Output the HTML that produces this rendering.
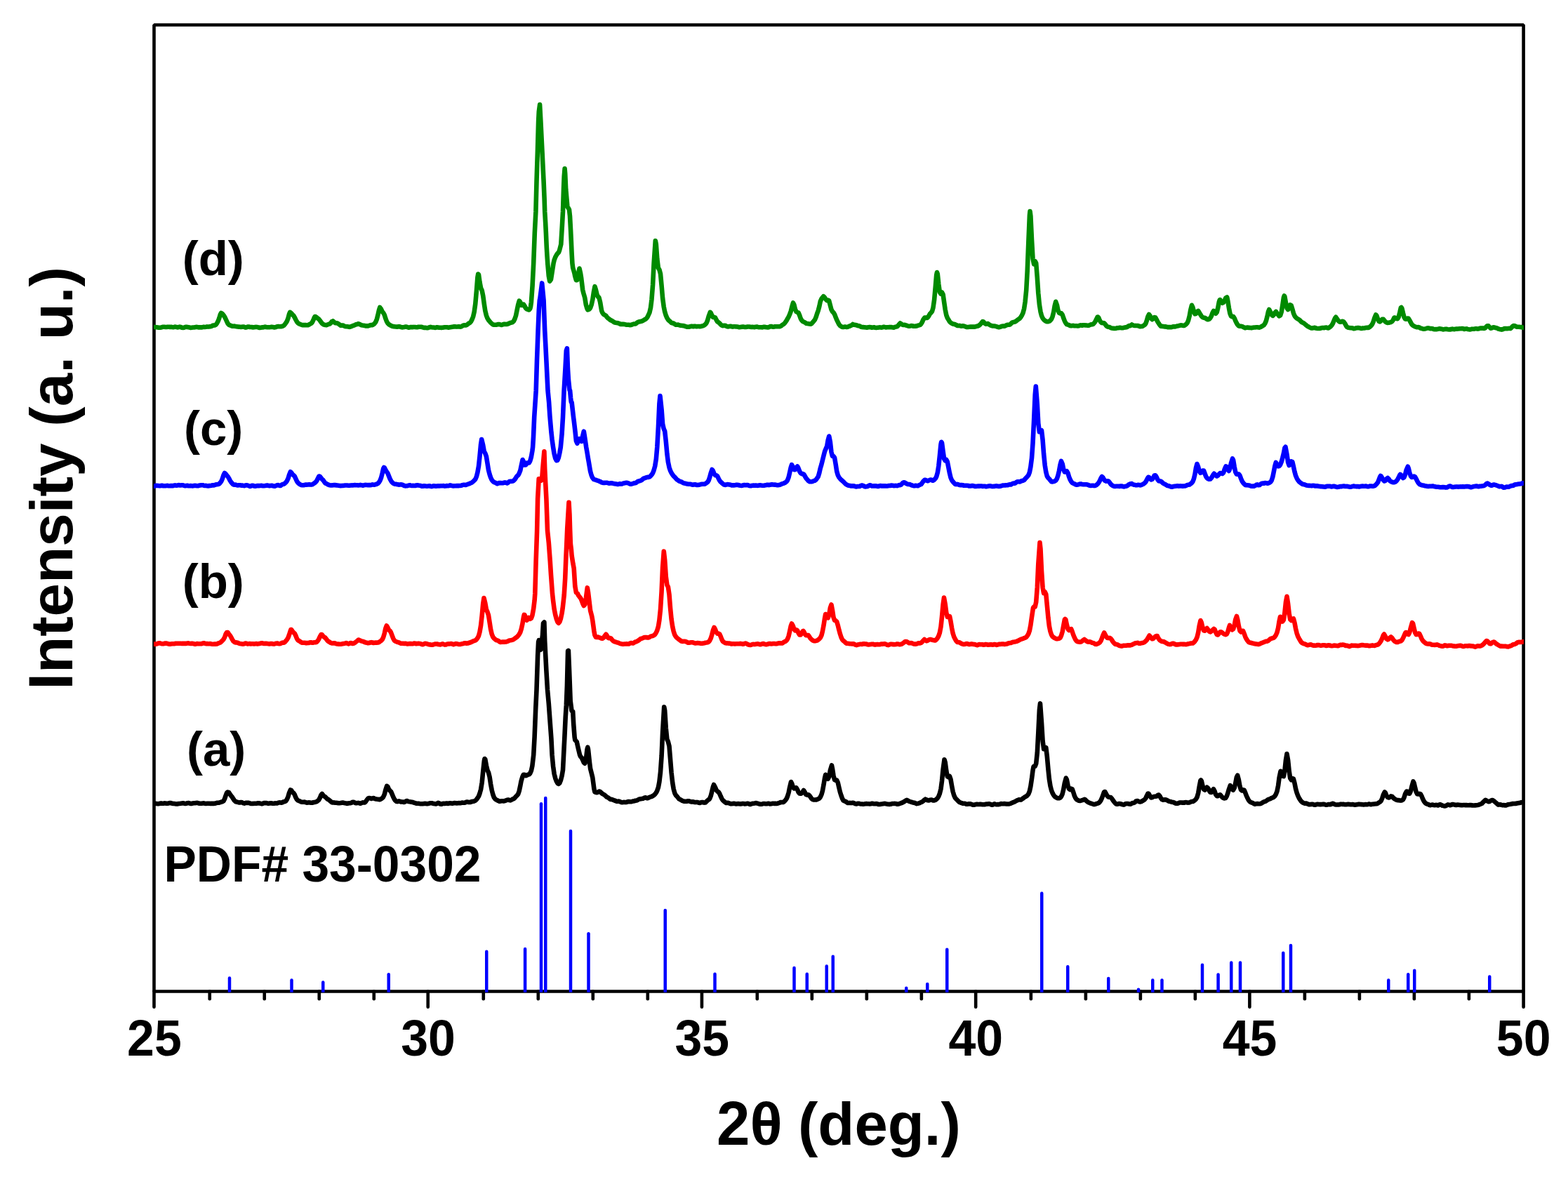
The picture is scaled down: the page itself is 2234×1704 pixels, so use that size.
<!DOCTYPE html>
<html lang="en"><head><meta charset="utf-8"><title>XRD patterns</title>
<style>html,body{margin:0;padding:0;background:#ffffff;}body{width:2234px;height:1704px;overflow:hidden;}svg{display:block;}</style>
</head><body>
<svg width="2234" height="1704" viewBox="0 0 2234 1704" role="img" aria-label="XRD patterns (a)-(d) with PDF# 33-0302 reference lines">
<rect x="0" y="0" width="2234" height="1704" fill="#ffffff"/>
<defs><clipPath id="plotclip"><rect x="219.0" y="35.50" width="1951.90" height="1380.05"/></clipPath></defs>
<g stroke="#000000" stroke-width="4.6" fill="none" stroke-linecap="round" stroke-linejoin="bevel">
<rect x="219.50" y="35.50" width="1951.10" height="1377.05"/>
<line x1="219.50" y1="1412.55" x2="219.50" y2="1434.80"/>
<line x1="298.74" y1="1412.55" x2="298.74" y2="1423.30"/>
<line x1="376.75" y1="1412.55" x2="376.75" y2="1423.30"/>
<line x1="454.76" y1="1412.55" x2="454.76" y2="1423.30"/>
<line x1="532.77" y1="1412.55" x2="532.77" y2="1423.30"/>
<line x1="609.72" y1="1412.55" x2="609.72" y2="1434.80"/>
<line x1="688.78" y1="1412.55" x2="688.78" y2="1423.30"/>
<line x1="766.79" y1="1412.55" x2="766.79" y2="1423.30"/>
<line x1="844.79" y1="1412.55" x2="844.79" y2="1423.30"/>
<line x1="922.80" y1="1412.55" x2="922.80" y2="1423.30"/>
<line x1="999.94" y1="1412.55" x2="999.94" y2="1434.80"/>
<line x1="1078.81" y1="1412.55" x2="1078.81" y2="1423.30"/>
<line x1="1156.82" y1="1412.55" x2="1156.82" y2="1423.30"/>
<line x1="1234.83" y1="1412.55" x2="1234.83" y2="1423.30"/>
<line x1="1312.84" y1="1412.55" x2="1312.84" y2="1423.30"/>
<line x1="1390.16" y1="1412.55" x2="1390.16" y2="1434.80"/>
<line x1="1468.85" y1="1412.55" x2="1468.85" y2="1423.30"/>
<line x1="1546.86" y1="1412.55" x2="1546.86" y2="1423.30"/>
<line x1="1624.86" y1="1412.55" x2="1624.86" y2="1423.30"/>
<line x1="1702.87" y1="1412.55" x2="1702.87" y2="1423.30"/>
<line x1="1780.38" y1="1412.55" x2="1780.38" y2="1434.80"/>
<line x1="1858.88" y1="1412.55" x2="1858.88" y2="1423.30"/>
<line x1="1936.89" y1="1412.55" x2="1936.89" y2="1423.30"/>
<line x1="2014.90" y1="1412.55" x2="2014.90" y2="1423.30"/>
<line x1="2092.91" y1="1412.55" x2="2092.91" y2="1423.30"/>
<line x1="2170.60" y1="1412.55" x2="2170.60" y2="1434.80"/>
</g>
<g clip-path="url(#plotclip)">
<polyline fill="none" stroke="#008a00" stroke-width="6.6" stroke-linejoin="round" stroke-linecap="butt" points="218.5,465.7 220.1,465.9 221.7,466.2 223.2,466.2 224.8,466.4 226.3,466.7 227.9,466.8 229.5,466.5 231.0,466.1 232.6,465.8 234.1,465.8 235.7,466.0 237.3,466.0 238.8,465.7 240.4,465.8 241.9,465.9 243.5,465.7 245.1,466.0 246.6,466.2 248.2,465.9 249.7,465.6 251.3,466.0 252.9,466.4 254.4,466.1 256.0,465.6 257.5,466.0 259.1,466.8 260.7,466.9 262.2,466.7 263.8,466.0 265.4,465.7 266.9,466.0 268.5,466.3 270.0,466.6 271.6,466.9 273.2,466.7 274.7,466.5 276.3,466.5 277.8,466.2 279.4,465.9 281.0,466.0 282.5,466.4 284.1,466.4 285.6,466.3 287.2,466.5 288.8,466.1 290.3,465.7 291.9,465.9 293.4,465.7 295.0,465.4 296.6,465.6 298.1,465.4 299.7,465.3 301.2,464.9 302.8,464.0 304.4,463.5 305.9,463.4 307.5,462.7 309.0,460.8 310.6,457.8 312.2,453.6 313.7,448.6 315.0,446.0 316.8,446.9 318.4,449.0 320.0,451.3 321.5,454.4 323.1,457.9 324.6,461.0 326.2,462.8 327.8,463.4 329.3,464.1 330.9,464.7 332.4,464.7 334.0,464.6 335.6,465.0 337.1,465.2 338.7,465.5 340.3,465.6 341.8,465.7 343.4,465.9 344.9,465.8 346.5,465.5 348.1,465.8 349.6,466.6 351.2,466.4 352.7,465.5 354.3,465.5 355.9,466.0 357.4,466.0 359.0,466.1 360.5,466.4 362.1,466.3 363.7,466.0 365.2,465.9 366.8,466.1 368.3,466.5 369.9,467.0 371.5,466.7 373.0,466.4 374.6,466.4 376.1,466.1 377.7,465.6 379.3,466.0 380.8,466.3 382.4,466.2 383.9,466.2 385.5,466.0 387.1,465.7 388.6,465.9 390.2,466.4 391.7,466.4 393.3,466.0 394.9,465.3 396.4,465.1 398.0,465.3 399.5,465.2 401.1,465.1 402.7,464.7 404.2,463.9 405.8,462.2 407.3,460.1 408.9,457.7 410.5,453.3 412.0,447.6 413.2,444.8 415.1,446.3 416.7,448.3 418.3,449.7 419.8,452.2 421.4,455.5 423.0,458.4 424.5,460.3 426.1,461.4 427.6,461.9 429.2,462.6 430.8,463.1 432.3,463.1 433.9,463.1 435.4,463.0 437.0,463.2 438.6,463.3 440.1,462.5 441.7,461.7 443.2,460.9 444.8,459.3 446.4,456.1 447.9,452.3 448.8,451.0 449.5,451.0 451.0,452.2 452.6,453.5 454.2,454.7 455.7,456.5 457.3,458.7 458.8,460.7 460.4,462.1 462.0,462.7 463.5,463.0 465.1,463.1 466.6,462.6 468.2,461.9 469.8,461.5 471.3,460.2 472.9,458.0 473.8,458.0 474.4,457.4 476.0,458.9 477.6,460.2 479.1,460.2 480.7,460.5 482.2,461.3 483.8,462.6 485.4,463.7 486.9,463.6 488.5,463.5 490.0,464.3 491.6,465.0 493.2,465.2 494.7,465.2 496.3,465.5 497.9,465.9 499.4,465.5 501.0,464.9 502.5,464.3 504.1,463.7 505.7,463.0 507.2,462.3 508.8,462.0 510.3,461.3 511.9,461.7 513.5,462.6 515.0,463.3 516.6,463.6 518.1,463.8 519.7,464.1 521.3,464.4 522.8,464.4 524.4,464.4 525.9,463.9 527.5,463.3 529.1,463.1 530.6,463.1 532.2,462.2 533.7,460.9 535.3,458.7 536.9,454.7 538.4,448.9 540.0,441.7 541.2,438.0 543.1,440.5 544.7,444.0 546.2,445.8 547.8,448.8 549.3,453.7 550.9,457.9 552.5,460.7 554.0,462.1 555.6,463.1 557.1,464.0 558.7,464.7 560.3,465.1 561.8,465.2 563.4,465.4 564.9,465.6 566.5,465.6 568.1,465.3 569.6,465.4 571.2,466.0 572.8,466.4 574.3,466.2 575.9,466.0 577.4,465.6 579.0,465.5 580.6,466.2 582.1,466.7 583.7,466.4 585.2,466.0 586.8,466.1 588.4,466.1 589.9,465.9 591.5,466.1 593.0,466.3 594.6,466.2 596.2,465.8 597.7,465.7 599.3,465.8 600.8,465.8 602.4,466.4 604.0,466.9 605.5,466.8 607.1,467.0 608.6,467.2 610.2,466.9 611.8,466.2 613.3,465.9 614.9,466.3 616.4,466.5 618.0,466.5 619.6,466.9 621.1,466.7 622.7,466.2 624.2,466.4 625.8,466.7 627.4,466.8 628.9,466.9 630.5,466.8 632.0,466.5 633.6,466.2 635.2,466.3 636.7,466.3 638.3,466.6 639.8,466.6 641.4,466.3 643.0,466.0 644.5,465.7 646.1,465.4 647.6,465.4 649.2,465.4 650.8,465.6 652.3,465.4 653.9,465.3 655.5,465.6 657.0,465.5 658.6,464.5 660.1,463.5 661.7,463.4 663.3,463.5 664.8,463.1 666.4,461.9 667.9,460.7 669.5,459.9 671.1,458.1 672.6,455.1 674.2,450.8 675.7,444.2 677.3,432.8 678.9,414.5 680.4,395.1 681.2,390.5 682.0,391.2 683.5,401.9 685.1,410.3 686.7,413.9 688.2,421.3 689.8,433.0 691.3,442.8 692.9,449.4 694.5,453.6 696.0,456.0 697.6,457.9 699.1,459.7 700.7,461.2 702.3,462.4 703.8,462.7 705.4,462.8 706.9,462.8 708.5,462.3 710.1,462.0 711.6,462.1 713.2,462.6 714.7,463.0 716.3,462.4 717.9,461.8 719.4,461.9 721.0,462.0 722.5,461.9 724.1,461.4 725.7,460.5 727.2,459.9 728.8,459.6 730.4,459.1 731.9,457.5 733.5,454.2 735.0,449.8 737.1,439.5 738.2,434.2 739.8,428.6 741.3,430.5 742.8,435.0 744.6,435.0 746.0,433.7 747.5,436.1 749.1,439.1 750.5,440.4 752.2,441.0 753.8,441.5 755.3,439.6 756.0,437.0 756.9,430.6 758.6,407.0 760.2,375.0 761.8,332.0 763.4,301.4 764.5,258.6 765.9,215.7 767.1,172.9 767.8,159.0 769.1,149.1 770.4,172.9 772.5,215.7 774.6,258.6 775.6,282.9 776.2,301.4 777.2,318.2 777.9,332.0 778.7,350.6 779.5,364.3 780.3,376.0 781.8,393.1 783.2,400.7 785.0,398.1 786.5,388.5 788.6,375.0 789.6,370.7 791.2,366.3 793.0,363.0 794.3,361.2 795.9,359.6 797.0,357.0 799.3,348.0 800.9,321.4 802.0,301.4 803.0,269.3 803.7,251.6 804.6,240.4 805.2,247.4 806.2,269.3 808.4,294.2 809.9,296.7 811.0,298.8 812.0,308.0 813.1,328.1 813.8,342.9 814.6,360.8 815.4,375.0 816.2,381.5 817.7,386.6 818.6,390.0 819.3,393.5 820.9,399.2 822.4,399.0 824.0,390.2 825.5,382.5 827.1,389.6 828.2,396.4 830.2,413.0 831.4,417.9 833.3,424.4 834.9,434.4 836.5,439.7 837.3,441.4 838.0,441.0 839.6,440.7 841.1,438.6 842.7,434.2 844.3,426.9 845.8,416.9 847.5,408.2 848.9,412.7 850.5,419.6 852.1,423.1 852.9,423.2 853.6,424.4 855.2,431.1 857.1,442.5 858.3,445.6 859.9,447.7 861.4,448.7 863.0,449.6 863.6,450.0 864.5,451.6 866.1,453.3 867.7,454.4 869.2,455.6 870.8,456.6 872.3,457.3 873.9,458.4 875.5,459.4 877.0,459.8 878.6,460.0 880.1,460.2 881.7,460.6 883.3,461.5 884.8,462.0 886.4,461.9 888.0,461.9 889.5,462.0 891.1,462.4 892.6,462.8 894.2,462.7 895.8,462.7 897.3,463.1 898.9,463.0 900.4,462.5 902.0,461.9 903.6,461.5 905.1,461.5 906.7,460.6 908.2,459.3 909.8,458.7 911.4,458.2 912.9,457.9 914.5,457.6 916.0,456.8 917.6,455.9 919.2,455.0 920.7,454.0 922.3,452.0 923.8,448.9 925.4,445.4 927.0,438.6 928.5,426.3 930.1,405.7 931.6,375.2 933.8,343.0 934.8,348.0 936.3,368.7 937.9,381.8 939.4,384.2 941.0,390.1 942.6,407.0 944.1,424.7 945.7,436.8 947.2,444.3 948.8,449.4 950.4,453.1 951.9,455.5 953.5,457.0 955.0,458.3 956.6,459.8 958.2,460.4 959.7,460.6 961.3,461.7 962.9,462.8 964.4,462.7 966.0,462.6 967.5,463.2 969.1,463.7 970.7,463.8 972.2,464.0 973.8,464.1 975.3,464.5 976.9,465.1 978.5,465.6 980.0,465.7 981.6,465.7 983.1,465.3 984.7,464.8 986.3,464.9 987.8,465.2 989.4,464.8 990.9,464.8 992.5,465.3 994.1,465.0 995.6,465.0 997.2,465.3 998.7,464.9 1000.3,464.6 1001.9,464.1 1003.4,463.3 1005.0,462.1 1006.5,460.2 1008.1,456.4 1009.7,450.6 1011.8,444.8 1012.8,445.8 1014.3,449.4 1015.9,451.9 1017.5,451.9 1019.0,452.6 1020.6,455.7 1022.1,458.2 1023.7,459.3 1025.3,460.6 1026.8,462.4 1028.4,463.6 1029.9,464.1 1031.5,463.7 1033.1,463.7 1034.6,464.5 1036.2,465.3 1037.7,465.4 1039.3,465.0 1040.9,464.8 1042.4,465.2 1044.0,465.6 1045.6,465.3 1047.1,465.2 1048.7,465.4 1050.2,465.5 1051.8,465.8 1053.4,466.3 1054.9,466.1 1056.5,465.7 1058.0,465.5 1059.6,465.6 1061.2,466.0 1062.7,466.0 1064.3,465.6 1065.8,465.5 1067.4,465.5 1069.0,465.7 1070.5,466.0 1072.1,465.9 1073.6,466.0 1075.2,466.2 1076.8,465.7 1078.3,465.5 1079.9,465.9 1081.4,466.2 1083.0,466.2 1084.6,466.3 1086.1,466.4 1087.7,465.9 1089.2,465.8 1090.8,466.1 1092.4,466.2 1093.9,466.4 1095.5,466.2 1097.0,465.3 1098.6,465.0 1100.2,465.5 1101.7,465.7 1103.3,465.4 1104.8,465.3 1106.4,465.3 1108.0,465.2 1109.5,465.2 1111.1,465.1 1112.6,464.5 1114.2,463.3 1115.8,462.3 1117.3,461.2 1118.9,459.2 1120.5,456.9 1122.0,454.2 1123.6,451.4 1125.1,448.0 1126.7,443.6 1128.3,437.2 1130.0,431.5 1131.4,434.3 1132.9,440.5 1134.5,444.1 1136.1,444.9 1137.6,445.6 1139.2,449.4 1140.7,453.8 1142.3,456.5 1143.9,458.1 1145.4,458.8 1147.0,459.5 1148.5,460.7 1150.1,461.1 1151.7,461.3 1153.2,461.6 1154.8,461.8 1156.3,461.0 1157.9,459.2 1159.5,457.4 1161.0,455.5 1162.6,451.7 1164.1,447.0 1165.7,442.7 1167.3,436.7 1168.8,429.4 1170.4,425.7 1171.9,423.9 1173.2,422.2 1175.1,424.1 1176.6,426.6 1178.2,428.1 1179.7,427.5 1181.2,428.5 1182.9,435.1 1184.4,440.9 1186.0,443.8 1187.5,445.3 1189.1,447.9 1190.7,452.1 1192.2,455.8 1193.8,458.9 1195.3,461.9 1196.9,464.0 1198.5,465.1 1200.0,466.0 1201.6,466.0 1203.2,465.6 1204.7,465.6 1206.3,466.0 1207.8,465.7 1209.4,465.0 1211.0,464.5 1212.5,463.8 1214.1,462.9 1215.0,462.0 1215.6,462.4 1217.2,462.7 1218.8,463.0 1220.3,463.3 1221.9,463.9 1223.4,464.2 1225.0,464.7 1226.6,465.6 1228.1,466.0 1229.7,466.1 1231.2,466.3 1232.8,466.4 1234.4,466.6 1235.9,466.6 1237.5,466.3 1239.0,466.1 1240.6,466.3 1242.2,466.7 1243.7,466.5 1245.3,466.3 1246.8,466.7 1248.4,466.9 1250.0,466.7 1251.5,466.6 1253.1,466.4 1254.6,466.5 1256.2,466.6 1257.8,466.2 1259.3,465.7 1260.9,466.1 1262.4,466.5 1264.0,466.3 1265.6,466.2 1267.1,466.1 1268.7,466.0 1270.2,466.1 1271.8,466.5 1273.4,466.6 1274.9,466.0 1276.5,465.6 1278.1,465.3 1279.6,463.9 1281.2,461.9 1282.5,460.5 1284.3,461.6 1285.9,462.7 1287.4,463.0 1289.0,462.8 1290.5,463.3 1292.1,463.9 1293.7,464.5 1295.2,464.7 1296.8,464.5 1298.3,464.1 1299.9,464.2 1301.5,464.8 1303.0,464.7 1304.6,464.6 1306.1,464.5 1307.7,463.8 1309.3,463.4 1310.8,462.9 1312.4,461.5 1313.9,458.8 1315.5,455.2 1317.5,452.5 1318.6,452.5 1320.2,453.0 1321.7,452.5 1323.3,450.1 1325.0,447.0 1326.4,445.6 1328.0,443.6 1329.5,438.4 1331.1,427.3 1332.7,409.6 1334.2,391.6 1335.0,388.0 1335.8,390.3 1337.3,404.6 1338.9,416.1 1340.5,418.6 1342.0,416.4 1343.6,419.5 1345.1,430.2 1346.7,441.1 1348.3,449.0 1349.8,453.0 1351.4,455.6 1353.0,458.2 1354.5,459.8 1356.1,460.8 1357.6,461.5 1359.2,461.8 1360.8,462.2 1362.3,462.9 1363.9,463.9 1365.4,464.1 1367.0,463.9 1368.6,464.5 1370.1,464.6 1371.7,464.2 1373.2,464.4 1374.8,465.1 1376.4,465.7 1377.9,466.1 1379.5,465.9 1381.0,465.7 1382.6,465.6 1384.2,465.5 1385.7,465.6 1387.3,465.6 1388.8,465.6 1390.4,465.2 1392.0,464.7 1393.5,464.4 1395.1,463.5 1396.6,462.2 1398.2,460.2 1400.0,458.0 1401.3,458.6 1402.9,460.6 1404.4,461.7 1406.0,461.3 1407.6,461.1 1409.1,462.3 1410.7,463.3 1412.2,463.9 1413.8,464.4 1415.4,464.5 1416.9,464.5 1418.5,464.9 1420.0,465.3 1421.6,465.8 1423.2,466.3 1424.7,465.9 1426.3,465.2 1427.8,464.8 1429.4,464.6 1431.0,464.7 1432.5,464.1 1434.1,463.2 1435.7,462.8 1437.2,462.8 1438.8,462.5 1440.3,461.2 1441.9,459.6 1443.5,459.0 1445.0,458.8 1446.6,458.2 1448.1,457.2 1449.7,455.9 1451.3,454.8 1452.8,453.8 1454.4,451.7 1455.9,449.3 1457.5,445.9 1459.1,439.8 1460.6,429.9 1462.2,413.6 1463.7,386.2 1465.3,345.6 1466.9,306.8 1467.5,301.0 1468.4,307.6 1470.0,341.5 1471.5,368.3 1473.1,376.3 1474.7,372.1 1476.2,375.1 1477.8,395.3 1479.3,417.7 1480.9,434.0 1482.5,444.1 1484.0,449.8 1485.6,453.3 1487.1,455.4 1488.7,456.7 1490.3,457.8 1491.8,458.2 1493.4,458.2 1494.9,457.7 1496.5,456.6 1498.1,454.5 1499.6,450.9 1501.2,444.5 1502.7,435.5 1504.2,429.8 1505.9,434.5 1507.4,441.8 1509.0,445.8 1510.6,446.6 1512.1,446.3 1513.7,448.4 1515.2,453.0 1516.8,457.2 1518.4,460.2 1519.9,462.1 1521.5,462.6 1523.0,463.1 1524.6,464.0 1526.2,464.3 1527.7,464.0 1529.3,463.9 1530.8,464.2 1532.4,464.2 1534.0,464.2 1535.5,464.4 1537.1,464.2 1538.6,463.5 1540.2,463.4 1541.8,463.7 1543.3,463.3 1544.9,463.2 1546.4,463.4 1548.0,463.5 1549.6,463.7 1551.1,463.8 1552.7,463.1 1554.2,462.4 1555.8,462.3 1557.4,461.8 1558.9,460.4 1560.5,458.1 1562.0,454.9 1563.6,451.8 1564.2,451.5 1565.2,452.5 1566.7,456.2 1568.3,458.9 1569.8,460.0 1571.4,460.1 1573.0,460.2 1574.5,461.8 1576.1,464.0 1577.6,465.4 1579.2,465.8 1580.8,466.1 1582.3,466.9 1583.9,467.6 1585.4,467.8 1587.0,467.9 1588.6,468.0 1590.1,467.7 1591.7,467.3 1593.3,467.2 1594.8,466.9 1596.4,466.9 1597.9,467.3 1599.5,467.3 1601.1,466.9 1602.6,466.5 1604.2,466.4 1605.7,466.0 1607.3,464.8 1608.9,464.1 1610.4,464.1 1612.5,462.5 1613.5,463.2 1615.1,463.7 1616.7,463.9 1618.2,464.0 1619.8,464.0 1621.3,464.1 1622.9,464.8 1624.5,465.2 1626.0,465.0 1627.6,464.9 1629.1,464.0 1630.7,463.0 1632.3,461.1 1633.8,456.9 1635.4,451.2 1637.0,448.0 1638.5,449.8 1640.1,453.7 1641.6,455.2 1643.2,454.0 1644.7,452.1 1646.3,452.5 1647.9,455.5 1649.4,458.5 1651.0,460.9 1652.5,463.2 1654.1,464.8 1655.7,464.9 1657.2,465.0 1658.8,465.4 1660.3,465.3 1661.9,465.7 1663.5,466.2 1665.0,466.0 1666.6,466.1 1668.2,466.3 1669.7,466.0 1671.3,465.4 1672.8,465.3 1674.4,465.4 1676.0,464.9 1677.5,464.5 1679.1,464.3 1680.6,463.7 1682.2,463.4 1683.8,463.5 1685.3,463.9 1686.9,463.9 1688.4,463.2 1690.0,461.9 1691.6,460.1 1693.1,456.5 1694.7,450.3 1696.2,441.8 1698.0,434.8 1699.4,437.8 1700.9,443.7 1702.5,447.3 1704.0,447.0 1705.6,444.0 1707.2,442.9 1708.7,445.4 1710.3,448.2 1711.8,450.4 1713.4,452.1 1715.0,452.6 1716.5,452.7 1718.1,453.8 1719.6,454.9 1721.2,455.2 1722.8,454.6 1724.3,453.1 1725.9,450.3 1727.4,446.0 1729.0,443.0 1730.6,444.9 1732.1,446.7 1733.7,444.9 1735.2,438.9 1736.8,430.3 1737.8,427.2 1738.4,427.1 1739.9,429.8 1741.5,431.8 1743.1,431.1 1744.6,428.7 1746.2,424.6 1748.2,423.5 1749.3,428.7 1750.9,438.8 1752.4,446.5 1754.0,450.6 1755.5,451.3 1757.1,451.0 1758.7,453.3 1760.2,457.0 1761.8,460.2 1763.3,462.7 1764.9,464.3 1766.5,464.8 1768.0,464.7 1769.6,465.1 1771.1,465.8 1772.7,466.7 1774.3,467.3 1775.8,466.7 1777.4,466.5 1778.9,466.9 1780.5,466.9 1782.1,467.1 1783.6,467.1 1785.2,466.7 1786.7,466.5 1788.3,466.5 1789.9,466.3 1791.4,466.2 1793.0,466.5 1794.5,466.6 1796.1,465.9 1797.7,465.0 1799.2,464.2 1800.8,463.0 1802.3,460.9 1803.9,457.1 1805.5,450.9 1807.0,443.9 1808.2,441.0 1810.1,444.8 1811.7,448.4 1813.3,449.8 1814.8,448.6 1816.4,445.5 1817.9,443.9 1820.0,447.5 1821.1,448.4 1822.6,450.4 1824.2,449.3 1825.8,444.3 1827.3,434.8 1828.9,423.9 1829.8,421.5 1830.4,422.6 1832.0,431.5 1833.6,439.0 1835.1,441.1 1836.7,438.4 1838.2,434.4 1839.8,435.4 1841.4,440.8 1842.9,446.2 1844.5,450.0 1846.0,452.1 1847.6,453.5 1849.2,454.5 1850.7,455.3 1852.3,456.6 1853.8,458.4 1855.4,459.4 1857.0,460.1 1858.5,461.2 1860.1,462.5 1861.6,463.9 1863.2,465.0 1864.8,465.8 1866.3,466.6 1867.9,467.4 1869.4,467.6 1871.0,467.3 1872.6,466.8 1874.1,467.2 1875.7,467.8 1877.2,468.0 1878.8,468.0 1880.4,467.9 1881.9,467.6 1883.5,467.0 1885.0,467.0 1886.6,467.2 1888.2,466.7 1889.7,466.5 1891.3,467.2 1892.8,467.4 1894.4,466.3 1896.0,464.9 1897.5,463.3 1899.1,460.5 1900.7,456.6 1902.2,453.0 1903.2,451.8 1905.3,454.9 1906.9,457.2 1908.5,458.5 1910.0,458.8 1911.6,458.0 1913.1,457.7 1914.7,458.8 1916.3,461.1 1917.8,464.1 1919.4,466.1 1920.9,466.8 1922.5,467.0 1924.1,467.2 1925.6,467.3 1927.2,467.6 1928.7,468.3 1930.3,468.1 1931.9,467.4 1933.4,467.3 1935.0,467.0 1936.5,467.2 1938.1,467.7 1939.7,467.9 1941.2,467.6 1942.8,467.5 1944.3,467.5 1945.9,466.9 1947.5,466.7 1949.0,467.0 1950.6,466.5 1952.1,465.3 1953.7,463.8 1955.3,461.5 1956.8,457.9 1958.4,452.8 1960.2,448.5 1961.5,450.0 1963.1,454.5 1964.6,457.8 1966.2,458.3 1967.7,456.7 1969.3,454.8 1970.9,454.9 1972.4,456.8 1974.0,458.6 1975.5,459.6 1977.1,459.9 1978.7,459.8 1980.2,459.4 1981.8,459.0 1983.4,458.0 1984.9,455.8 1986.5,452.5 1988.0,453.0 1989.6,453.9 1991.2,454.2 1992.7,451.6 1994.3,445.3 1995.8,438.6 1996.5,438.0 1997.4,439.3 1999.0,446.1 2000.5,451.8 2002.1,454.5 2003.6,454.7 2005.2,453.5 2006.8,453.8 2008.3,456.4 2009.9,459.4 2011.4,462.1 2013.0,463.7 2014.6,464.6 2016.1,465.4 2017.7,465.9 2019.2,466.2 2020.8,466.1 2022.4,466.7 2023.9,467.6 2025.5,468.0 2027.0,468.4 2028.6,468.7 2030.2,468.5 2031.7,468.1 2033.3,467.6 2034.8,467.4 2036.4,467.8 2038.0,468.2 2039.5,468.1 2041.1,468.2 2042.6,468.9 2044.2,469.2 2045.8,469.0 2047.3,469.1 2048.9,468.8 2050.4,468.4 2052.0,468.4 2053.6,468.7 2055.1,469.2 2056.7,469.4 2058.3,469.0 2059.8,468.8 2061.4,468.9 2062.9,469.2 2064.5,469.4 2066.1,469.5 2067.6,469.0 2069.2,468.6 2070.7,469.0 2072.3,469.2 2073.9,468.7 2075.4,468.5 2077.0,468.6 2078.5,468.4 2080.1,468.3 2081.7,468.3 2083.2,468.0 2084.8,468.2 2086.3,468.9 2087.9,468.6 2089.5,468.4 2091.0,469.0 2092.6,469.2 2094.1,469.4 2095.7,469.2 2097.3,468.7 2098.8,468.8 2100.4,468.8 2101.9,468.2 2103.5,468.2 2105.1,468.6 2106.6,468.4 2108.2,467.8 2109.7,467.6 2111.3,467.6 2112.9,467.6 2114.4,467.9 2116.0,467.3 2117.5,465.5 2119.0,464.2 2120.7,464.4 2122.2,466.0 2123.8,467.6 2125.3,467.5 2126.9,466.5 2128.5,466.3 2130.0,466.8 2131.6,467.2 2133.2,467.7 2134.7,468.5 2136.3,468.9 2137.8,469.2 2139.4,469.6 2141.0,469.2 2142.5,468.5 2144.1,468.0 2145.6,468.1 2147.2,468.3 2148.8,468.0 2150.3,467.9 2151.9,468.1 2153.4,466.9 2155.0,465.0 2156.5,464.0 2158.1,464.2 2159.7,465.0 2161.2,465.8 2162.8,465.8 2164.4,465.8 2165.9,466.0 2167.5,466.1 2169.0,466.4 2170.6,466.9 2172.2,467.0"/>
<polyline fill="none" stroke="#0000ff" stroke-width="6.6" stroke-linejoin="round" stroke-linecap="butt" points="218.5,692.7 220.1,692.6 221.7,692.0 223.2,691.7 224.8,691.9 226.3,692.1 227.9,692.2 229.5,691.9 231.0,691.8 232.6,692.2 234.1,692.3 235.7,692.2 237.3,692.0 238.8,691.9 240.4,692.2 241.9,692.3 243.5,692.1 245.1,692.0 246.6,692.1 248.2,691.6 249.7,691.4 251.3,691.8 252.9,691.5 254.4,691.1 256.0,691.4 257.5,691.5 259.1,691.3 260.7,691.3 262.2,691.9 263.8,692.3 265.4,692.0 266.9,691.8 268.5,692.2 270.0,692.3 271.6,692.1 273.2,692.3 274.7,692.4 276.3,692.0 277.8,691.8 279.4,692.0 281.0,692.3 282.5,692.2 284.1,691.6 285.6,691.4 287.2,691.3 288.8,691.2 290.3,691.7 291.9,692.0 293.4,691.9 295.0,692.3 296.6,692.4 298.1,692.1 299.7,692.0 301.2,691.7 302.8,691.3 304.4,691.4 305.9,691.1 307.5,690.4 309.0,690.3 310.6,690.1 312.2,689.4 313.7,687.9 315.3,685.7 316.8,682.2 318.4,677.3 320.0,674.0 321.5,675.1 323.1,677.3 324.6,678.9 326.2,681.6 327.8,684.7 329.3,687.0 330.9,688.9 332.4,690.4 334.0,690.8 335.6,690.6 337.1,691.1 338.7,691.5 340.3,691.2 341.8,691.3 343.4,691.6 344.9,691.5 346.5,691.9 348.1,692.1 349.6,691.5 351.2,691.3 352.7,691.5 354.3,692.1 355.9,692.9 357.4,692.6 359.0,691.7 360.5,691.7 362.1,692.5 363.7,692.8 365.2,692.4 366.8,692.0 368.3,692.1 369.9,692.1 371.5,691.9 373.0,691.9 374.6,692.2 376.1,692.3 377.7,692.1 379.3,691.8 380.8,691.5 382.4,691.9 383.9,692.3 385.5,691.9 387.1,691.7 388.6,692.2 390.2,692.6 391.7,692.6 393.3,692.0 394.9,691.2 396.4,691.1 398.0,691.9 399.5,692.0 401.1,690.8 402.7,690.1 404.2,689.8 405.8,688.7 407.3,687.3 408.9,685.2 410.5,681.7 412.0,676.8 413.8,672.2 415.1,673.4 416.7,675.9 418.3,677.1 419.8,678.6 421.4,682.1 423.0,685.6 424.5,687.8 426.1,689.2 427.6,690.2 429.2,690.9 430.8,691.2 432.3,691.2 433.9,690.9 435.4,690.6 437.0,690.6 438.6,690.5 440.1,690.4 441.7,690.4 443.2,690.6 444.8,690.3 446.4,689.4 447.9,688.3 449.5,687.2 451.0,685.4 452.6,682.2 454.5,678.5 455.7,678.7 457.3,680.8 458.8,682.7 460.4,684.1 462.0,686.5 463.5,688.4 465.1,689.1 466.6,690.0 468.2,690.8 469.8,691.2 471.3,691.4 472.9,691.5 474.4,691.2 476.0,691.0 477.6,691.1 479.1,691.4 480.7,691.5 482.2,691.7 483.8,692.0 485.4,692.1 486.9,692.0 488.5,691.9 490.0,691.7 491.6,691.5 493.2,691.5 494.7,691.5 496.3,691.7 497.9,691.8 499.4,691.6 501.0,691.4 502.5,691.5 504.1,691.3 505.7,691.1 507.2,691.2 508.8,691.3 510.3,691.4 511.9,691.2 513.5,690.9 515.0,691.2 516.6,691.7 518.1,691.4 519.7,691.0 521.3,690.9 522.8,691.1 524.4,691.3 525.9,691.0 527.5,691.1 529.1,691.0 530.6,690.4 532.2,690.6 533.7,690.7 535.3,690.2 536.9,689.6 538.4,688.8 540.0,687.2 541.5,684.6 543.1,680.5 544.7,674.2 546.2,667.5 547.0,666.0 547.8,666.3 549.3,669.6 550.9,672.1 552.5,674.4 554.0,678.2 555.6,682.2 557.1,685.1 558.7,687.3 560.3,688.6 561.8,689.4 563.4,689.7 564.9,689.8 566.5,690.3 568.1,690.6 569.6,690.5 571.2,690.4 572.8,690.5 574.3,691.1 575.9,692.0 577.4,692.4 579.0,692.2 580.6,692.1 582.1,691.6 583.7,691.2 585.2,691.7 586.8,692.0 588.4,691.9 589.9,692.0 591.5,692.0 593.0,691.5 594.6,691.3 596.2,691.6 597.7,691.8 599.3,692.0 600.8,692.6 602.4,692.7 604.0,692.3 605.5,692.4 607.1,692.6 608.6,692.7 610.2,692.5 611.8,692.3 613.3,692.7 614.9,693.1 616.4,692.7 618.0,692.2 619.6,692.5 621.1,692.8 622.7,692.5 624.2,692.4 625.8,692.5 627.4,692.2 628.9,692.3 630.5,692.2 632.0,692.1 633.6,692.6 635.2,692.4 636.7,692.1 638.3,692.2 639.8,691.9 641.4,691.4 643.0,691.7 644.5,692.3 646.1,692.4 647.6,692.3 649.2,692.2 650.8,692.1 652.3,692.1 653.9,692.1 655.5,691.9 657.0,691.7 658.6,691.3 660.1,690.7 661.7,690.7 663.3,691.0 664.8,690.6 666.4,689.9 667.9,689.4 669.5,688.8 671.1,688.1 672.6,687.3 674.2,686.0 675.7,684.5 677.3,682.7 678.9,679.0 680.4,673.1 682.0,664.2 683.5,650.1 685.1,632.9 686.2,626.0 688.2,634.3 689.8,643.3 691.3,645.9 692.9,650.4 694.5,660.3 696.0,669.7 697.6,675.9 699.1,680.4 700.7,683.7 702.3,685.8 703.8,687.1 705.4,687.5 706.9,688.4 708.5,689.2 710.1,688.5 711.6,688.0 713.2,688.1 714.7,688.3 716.3,688.2 717.9,687.8 719.4,687.4 721.0,687.8 722.5,688.4 724.1,687.4 725.7,686.0 727.2,685.8 728.8,685.8 730.4,685.6 731.9,684.8 733.5,683.1 735.0,680.8 736.0,679.0 738.2,677.1 739.7,674.4 741.3,670.3 742.8,663.1 744.6,655.0 746.0,657.7 747.5,662.4 749.1,662.4 750.6,659.6 752.1,659.6 753.8,659.5 755.3,656.7 756.9,651.0 758.4,642.5 759.1,637.1 760.0,622.3 761.2,594.3 763.7,556.4 765.0,513.6 766.6,470.7 767.8,441.7 768.8,427.9 769.4,425.2 770.9,413.6 772.2,403.4 774.6,427.9 775.6,455.2 776.2,470.7 777.2,489.5 778.4,513.6 780.5,556.4 782.1,572.9 783.4,592.6 785.4,615.7 786.5,625.7 788.1,637.2 789.6,646.5 791.2,653.0 792.9,656.2 794.3,655.8 795.9,651.9 797.4,645.1 798.8,637.1 800.6,617.9 802.0,594.3 803.6,556.4 805.5,524.3 806.8,499.5 807.9,496.4 808.9,524.3 809.9,540.7 811.5,555.8 812.1,556.4 813.1,567.1 813.8,572.9 814.6,573.1 816.2,587.2 817.0,594.3 817.7,599.4 819.6,615.7 820.9,628.3 822.4,631.8 824.5,625.4 825.5,625.1 827.1,628.3 828.7,628.8 830.2,621.2 831.8,614.6 833.3,624.1 835.2,637.1 836.5,644.5 838.0,653.6 838.9,658.6 839.6,662.9 841.1,671.7 842.7,677.3 843.8,680.0 845.8,682.8 847.4,683.4 848.9,683.8 850.5,684.4 851.8,684.8 853.6,685.6 855.2,686.2 856.7,687.1 858.3,687.7 859.9,687.9 861.4,687.9 863.0,687.7 864.5,687.7 866.1,688.1 867.7,688.6 869.2,688.5 870.8,688.2 872.3,688.5 873.9,688.9 875.5,689.3 877.0,689.4 878.6,689.6 880.1,690.0 881.7,689.7 883.3,689.2 884.8,689.6 886.4,689.4 888.0,688.6 889.5,688.4 891.1,688.0 892.6,687.8 894.2,688.0 895.8,688.6 897.3,689.5 898.9,689.8 900.4,689.4 902.0,688.9 903.6,688.3 905.1,688.2 906.7,687.6 908.2,686.3 909.8,685.5 911.4,685.2 912.9,684.7 914.5,683.8 916.0,682.4 917.6,681.4 919.2,681.0 920.7,680.4 922.3,679.9 923.8,679.9 925.4,679.4 927.0,678.0 928.5,676.3 930.1,673.9 931.6,670.0 933.2,664.1 934.8,654.2 936.3,637.0 937.9,608.7 939.4,575.4 940.5,564.0 942.6,583.5 944.1,603.9 945.7,611.0 947.2,614.4 948.8,629.0 950.4,646.5 951.9,658.4 953.5,665.9 955.0,670.5 956.6,673.7 958.2,676.3 959.7,678.3 961.3,679.7 962.9,681.6 964.4,683.2 966.0,684.2 967.5,685.4 969.1,686.0 970.7,686.4 972.2,687.3 973.8,688.2 975.3,688.6 976.9,688.9 978.5,689.4 980.0,689.6 981.6,689.7 983.1,689.8 984.7,690.1 986.3,690.6 987.8,690.6 989.4,690.2 990.9,690.3 992.5,690.9 994.1,691.0 995.6,690.7 997.2,690.4 998.7,690.0 1000.3,689.7 1001.9,689.7 1003.4,689.8 1005.0,689.2 1006.5,688.1 1008.1,686.9 1009.7,684.4 1011.2,679.9 1012.8,673.8 1014.5,669.0 1015.9,670.8 1017.5,675.0 1019.0,677.1 1020.6,677.2 1022.1,678.3 1023.7,681.7 1025.3,684.7 1026.8,686.6 1028.4,688.0 1029.9,689.4 1031.5,690.5 1033.1,690.9 1034.6,690.6 1036.2,690.1 1037.7,690.2 1039.3,690.5 1040.9,690.8 1042.4,691.4 1044.0,691.4 1045.6,691.4 1047.1,691.3 1048.7,690.9 1050.2,690.8 1051.8,691.0 1053.4,691.5 1054.9,691.7 1056.5,691.9 1058.0,691.7 1059.6,691.1 1061.2,691.1 1062.7,691.2 1064.3,691.0 1065.8,691.3 1067.4,692.0 1069.0,692.2 1070.5,692.1 1072.1,691.7 1073.6,691.6 1075.2,691.8 1076.8,691.6 1078.3,691.8 1079.9,691.9 1081.4,691.5 1083.0,691.2 1084.6,691.5 1086.1,691.7 1087.7,691.7 1089.2,691.6 1090.8,691.3 1092.4,690.8 1093.9,690.8 1095.5,691.1 1097.0,690.7 1098.6,690.4 1100.2,690.4 1101.7,690.5 1103.3,690.6 1104.8,690.6 1106.4,691.0 1108.0,691.3 1109.5,691.0 1111.1,690.7 1112.6,690.1 1114.2,689.3 1115.8,688.8 1117.3,688.3 1118.9,687.5 1120.5,686.2 1122.0,684.2 1123.6,680.0 1125.1,673.4 1126.7,666.3 1128.0,662.2 1129.8,665.4 1131.4,669.1 1132.9,669.1 1134.5,666.2 1136.1,664.4 1137.0,666.0 1137.6,667.3 1139.2,671.5 1140.7,674.0 1142.3,675.1 1143.9,675.0 1145.4,676.0 1147.0,678.7 1148.5,681.3 1150.1,683.2 1151.7,685.1 1153.2,686.1 1154.8,686.2 1156.3,686.3 1157.9,685.9 1159.5,685.1 1161.0,684.8 1162.6,683.5 1164.1,681.4 1165.7,679.1 1167.3,673.7 1168.8,667.1 1170.4,661.7 1171.9,655.7 1173.5,649.3 1175.1,643.0 1176.6,639.4 1178.2,635.8 1179.7,627.1 1181.2,621.5 1182.9,630.0 1184.4,643.7 1186.0,650.0 1187.5,650.0 1189.1,652.2 1190.7,661.8 1192.2,671.5 1193.8,677.1 1195.3,680.0 1196.9,682.0 1198.5,683.7 1200.0,684.9 1201.6,686.3 1203.2,688.0 1204.7,689.5 1206.3,690.6 1207.8,691.3 1209.4,691.8 1211.0,692.1 1212.5,692.4 1214.1,692.4 1215.6,692.3 1217.2,692.6 1218.8,693.2 1220.3,693.4 1221.9,693.0 1223.4,693.0 1225.0,692.9 1226.6,691.9 1228.1,691.5 1229.7,691.9 1231.2,692.8 1232.8,693.4 1234.4,693.3 1235.9,693.0 1237.5,692.2 1239.0,691.2 1240.6,691.5 1242.2,692.5 1243.7,692.5 1245.3,692.3 1246.8,692.4 1248.4,692.4 1250.0,692.9 1251.5,693.0 1253.1,692.3 1254.6,692.1 1256.2,692.4 1257.8,692.4 1259.3,692.4 1260.9,692.3 1262.4,692.5 1264.0,692.5 1265.6,692.1 1267.1,692.0 1268.7,691.9 1270.2,691.6 1271.8,691.7 1273.4,692.1 1274.9,692.0 1276.5,691.9 1278.1,692.1 1279.6,691.6 1281.2,691.0 1282.7,691.1 1284.3,690.3 1285.9,688.3 1287.5,687.2 1289.0,687.5 1290.5,688.5 1292.1,689.4 1293.7,690.0 1295.2,690.0 1296.8,690.3 1298.3,691.1 1299.9,691.7 1301.5,692.2 1303.0,692.2 1304.6,691.8 1306.1,692.0 1307.7,692.2 1309.3,691.4 1310.8,690.6 1312.4,690.0 1313.9,688.0 1315.5,685.6 1317.5,683.8 1318.6,683.7 1320.2,684.7 1321.7,685.3 1323.3,684.5 1325.0,683.8 1326.4,683.5 1328.0,684.4 1329.5,684.7 1331.1,683.5 1332.7,681.8 1334.2,679.1 1335.8,673.4 1337.3,663.9 1338.9,649.1 1340.5,632.9 1341.2,629.8 1342.0,630.9 1343.6,643.2 1345.1,653.5 1346.7,656.3 1348.3,655.0 1349.8,657.8 1351.4,666.1 1353.0,674.3 1354.5,680.5 1356.1,684.2 1357.6,686.2 1359.2,688.0 1360.8,689.7 1362.3,690.1 1363.9,689.9 1365.4,690.4 1367.0,691.0 1368.6,691.1 1370.1,691.1 1371.7,691.3 1373.2,691.7 1374.8,691.8 1376.4,691.7 1377.9,691.8 1379.5,692.0 1381.0,692.5 1382.6,692.5 1384.2,692.1 1385.7,692.0 1387.3,692.4 1388.8,692.9 1390.4,692.9 1392.0,692.7 1393.5,692.6 1395.1,692.6 1396.6,692.5 1398.2,692.5 1399.8,692.9 1401.3,692.7 1402.9,692.7 1404.4,693.2 1406.0,693.1 1407.6,692.8 1409.1,692.4 1410.7,692.2 1412.2,692.8 1413.8,693.1 1415.4,692.9 1416.9,692.9 1418.5,692.5 1420.0,692.4 1421.6,692.8 1423.2,692.9 1424.7,692.8 1426.3,692.3 1427.8,691.8 1429.4,691.5 1431.0,691.5 1432.5,691.4 1434.1,691.3 1435.7,691.3 1437.2,690.6 1438.8,690.2 1440.3,690.4 1441.9,689.4 1443.5,688.6 1445.0,688.8 1446.6,688.3 1448.1,687.0 1449.7,686.2 1451.3,686.3 1452.8,686.5 1454.4,685.8 1455.9,685.0 1457.5,684.7 1459.1,684.0 1460.6,682.3 1462.2,680.6 1463.7,679.0 1465.3,677.0 1466.9,672.8 1468.4,665.1 1470.0,652.7 1471.5,631.8 1473.1,599.5 1474.7,562.6 1475.8,550.5 1477.8,575.8 1479.3,603.2 1480.9,615.3 1482.5,614.0 1484.0,613.2 1485.6,626.9 1487.1,646.9 1488.7,662.7 1490.3,672.7 1491.8,678.4 1493.4,680.9 1494.9,682.3 1496.5,684.4 1498.1,686.2 1499.6,686.4 1501.2,686.0 1502.7,685.6 1504.3,684.5 1505.9,681.9 1507.4,677.5 1509.0,670.7 1510.6,661.8 1512.0,657.0 1513.7,661.0 1515.2,668.4 1516.8,672.4 1518.4,672.4 1519.9,671.3 1521.5,673.9 1523.0,679.1 1524.6,683.2 1526.2,686.1 1527.7,688.1 1529.3,688.8 1530.8,689.4 1532.4,690.3 1534.0,690.7 1535.5,690.5 1537.1,690.1 1538.6,689.5 1540.0,689.5 1541.8,690.1 1543.3,690.3 1544.9,690.2 1546.4,690.3 1548.0,690.2 1549.6,690.6 1551.1,691.3 1552.7,691.7 1554.2,691.9 1555.8,691.7 1557.4,691.8 1558.9,692.1 1560.5,691.9 1562.0,691.1 1563.6,689.8 1565.2,687.9 1566.7,685.3 1568.3,681.8 1570.0,679.0 1571.4,680.4 1573.0,683.3 1574.5,685.0 1576.1,685.6 1577.6,685.4 1579.2,685.5 1580.8,687.2 1582.3,689.5 1583.9,691.0 1585.4,692.0 1587.0,692.7 1588.6,692.9 1590.1,692.7 1591.7,692.7 1593.3,692.8 1594.8,692.9 1596.4,692.6 1597.9,692.5 1599.5,693.0 1601.1,693.4 1602.6,693.1 1604.2,692.8 1605.7,692.4 1607.3,691.2 1608.9,690.0 1610.4,689.4 1612.5,689.0 1613.5,689.9 1615.1,690.6 1616.7,690.7 1618.2,691.3 1619.8,691.3 1621.3,690.7 1622.9,690.9 1624.5,691.4 1626.0,691.0 1627.6,690.3 1629.1,689.6 1630.7,688.3 1632.3,686.7 1633.8,683.9 1635.4,680.8 1636.2,679.8 1636.9,679.9 1638.5,681.7 1640.1,683.4 1641.6,682.9 1643.2,680.5 1644.7,677.5 1646.2,677.2 1647.9,680.0 1649.4,683.4 1651.0,685.2 1652.5,685.5 1654.1,685.8 1655.7,687.1 1657.2,688.6 1658.8,689.4 1660.3,690.1 1661.9,691.2 1663.5,692.1 1665.0,692.3 1666.6,692.7 1668.2,693.4 1669.7,693.7 1671.3,693.3 1672.8,692.9 1674.4,692.8 1676.0,692.5 1677.5,692.3 1679.1,692.6 1680.6,692.5 1682.2,692.4 1683.8,692.6 1685.3,692.6 1686.9,692.5 1688.4,692.4 1690.0,691.8 1691.6,690.9 1693.1,690.7 1694.7,690.5 1696.2,689.4 1697.8,688.1 1699.4,686.1 1700.9,682.3 1702.5,675.5 1704.0,666.3 1705.5,661.0 1707.2,665.3 1708.7,671.2 1710.3,673.8 1711.8,673.2 1713.4,670.6 1715.0,670.5 1716.5,674.5 1718.1,678.7 1719.6,681.1 1721.2,682.2 1722.8,682.8 1724.3,682.6 1725.9,681.0 1727.4,678.4 1729.0,675.8 1729.8,674.8 1730.6,675.4 1732.1,677.4 1733.7,678.5 1735.2,677.5 1736.8,675.6 1738.4,674.0 1739.9,674.2 1741.5,674.9 1743.1,673.5 1744.6,668.9 1746.5,664.5 1747.7,664.9 1749.3,669.2 1750.9,670.9 1752.4,667.6 1754.0,659.7 1756.0,653.5 1757.1,655.6 1758.7,665.1 1760.2,672.4 1761.8,675.5 1763.3,675.8 1764.9,675.5 1766.5,677.6 1768.0,681.7 1769.6,685.4 1771.1,687.8 1772.7,689.6 1774.3,690.9 1775.8,691.2 1777.4,691.2 1778.9,691.4 1780.5,691.8 1782.1,692.5 1783.6,692.7 1785.2,692.6 1786.7,692.6 1788.3,692.0 1789.9,690.7 1791.4,690.4 1793.0,691.3 1794.5,691.1 1796.1,689.8 1797.7,688.7 1799.2,688.6 1800.8,688.7 1802.3,688.0 1803.9,688.2 1805.5,688.7 1807.0,688.5 1808.6,687.8 1810.1,686.8 1811.7,684.6 1813.3,679.6 1814.8,672.1 1816.4,663.8 1817.8,659.0 1819.5,661.7 1821.1,664.4 1822.6,664.0 1824.2,661.9 1825.8,657.8 1827.3,652.4 1828.9,646.1 1830.4,638.1 1831.5,636.8 1833.6,648.2 1835.1,658.6 1836.7,663.0 1838.2,661.4 1839.8,657.4 1841.4,658.1 1842.9,664.8 1844.5,672.1 1846.0,677.5 1847.6,681.3 1849.2,684.1 1850.7,686.1 1852.3,687.4 1853.8,688.5 1855.4,689.7 1857.0,690.1 1858.5,690.2 1860.1,690.9 1861.6,691.6 1863.2,691.8 1864.8,691.9 1866.3,691.9 1867.9,692.1 1869.4,692.1 1871.0,691.8 1872.6,692.0 1874.1,692.5 1875.7,692.2 1877.2,692.3 1878.8,692.8 1880.4,693.0 1881.9,693.1 1883.5,693.3 1885.0,693.4 1886.6,693.6 1888.2,693.7 1889.7,693.0 1891.3,692.7 1892.8,692.7 1894.4,692.7 1896.0,693.2 1897.5,693.4 1899.1,692.9 1900.7,692.8 1902.2,693.2 1903.8,693.7 1905.3,694.0 1906.9,693.8 1908.5,693.3 1910.0,693.0 1911.6,693.1 1913.1,692.8 1914.7,692.6 1916.3,692.9 1917.8,693.0 1919.4,692.9 1920.9,693.2 1922.5,693.7 1924.1,693.8 1925.6,693.4 1927.2,692.9 1928.7,692.6 1930.3,692.9 1931.9,693.1 1933.4,693.0 1935.0,693.1 1936.5,693.4 1938.1,693.1 1939.7,692.7 1941.2,692.6 1942.8,692.7 1944.3,692.7 1945.9,692.6 1947.5,692.9 1949.0,693.2 1950.6,692.9 1952.1,692.5 1953.7,692.5 1955.3,692.7 1956.8,692.7 1958.4,692.2 1959.9,690.9 1961.5,689.3 1963.1,687.2 1964.6,683.4 1966.2,679.1 1967.0,678.0 1967.7,678.4 1969.3,681.2 1970.9,684.1 1972.4,685.4 1974.0,684.7 1975.5,682.3 1977.1,680.9 1978.7,682.6 1980.2,685.0 1981.8,686.2 1983.4,686.8 1984.9,687.2 1986.5,687.1 1988.0,686.6 1989.6,685.3 1991.2,683.1 1992.7,680.3 1994.3,676.9 1995.0,676.0 1995.8,676.4 1997.4,679.3 1999.0,681.1 2000.5,680.0 2002.1,676.1 2003.6,669.8 2005.8,664.8 2006.8,667.2 2008.3,673.5 2009.9,678.1 2011.4,680.0 2013.0,679.6 2014.6,678.6 2016.1,679.4 2017.7,682.3 2019.2,685.4 2020.8,688.1 2022.4,689.9 2023.9,690.6 2025.5,691.2 2027.0,691.4 2028.6,691.8 2030.2,692.2 2031.7,692.4 2033.3,692.8 2034.8,693.0 2036.4,692.7 2038.0,692.8 2039.5,692.7 2041.1,692.5 2042.6,692.8 2044.2,693.3 2045.8,693.6 2047.3,693.7 2048.9,693.8 2050.4,694.0 2052.0,694.2 2053.6,694.2 2055.1,694.0 2056.7,694.1 2058.3,694.3 2059.8,694.6 2061.4,694.4 2062.9,693.7 2064.5,692.8 2066.1,692.5 2067.6,693.3 2069.2,694.0 2070.7,694.0 2072.3,693.8 2073.9,693.6 2075.4,693.4 2077.0,693.6 2078.5,693.6 2080.1,693.4 2081.7,693.5 2083.2,693.4 2084.8,693.4 2086.3,693.5 2087.9,693.3 2089.5,693.1 2091.0,693.1 2092.6,693.3 2094.1,693.7 2095.7,694.3 2097.3,693.8 2098.8,693.3 2100.4,693.1 2101.9,692.7 2103.5,692.5 2105.1,693.0 2106.6,693.2 2108.2,692.8 2109.7,692.7 2111.3,692.5 2112.9,692.3 2114.4,692.0 2116.0,691.0 2117.5,689.4 2119.0,688.5 2120.7,689.4 2122.2,690.5 2123.8,691.4 2125.3,691.7 2126.9,691.0 2128.5,690.5 2130.0,690.9 2131.6,691.3 2133.2,691.8 2134.7,692.6 2136.3,693.3 2137.8,693.1 2139.4,692.9 2141.0,693.9 2142.5,694.8 2144.1,694.6 2145.6,693.8 2147.2,693.6 2148.8,693.7 2150.3,693.4 2151.9,692.6 2153.4,692.0 2155.0,692.0 2156.6,691.5 2158.1,690.5 2159.7,690.2 2161.2,690.1 2162.8,689.8 2164.4,689.6 2165.9,689.4 2167.5,689.0 2169.0,688.5 2170.6,688.3 2172.2,688.5"/>
<polyline fill="none" stroke="#ff0000" stroke-width="6.6" stroke-linejoin="round" stroke-linecap="butt" points="218.5,917.5 220.1,917.6 221.7,917.6 223.2,917.5 224.8,916.8 226.3,916.4 227.9,916.4 229.5,916.9 231.0,917.3 232.6,917.3 234.1,916.8 235.7,916.5 237.3,916.6 238.8,917.0 240.4,917.6 241.9,917.8 243.5,917.5 245.1,917.3 246.6,917.3 248.2,917.3 249.7,916.9 251.3,916.8 252.9,916.8 254.4,916.7 256.0,916.7 257.5,916.7 259.1,916.9 260.7,916.9 262.2,916.8 263.8,916.9 265.4,916.9 266.9,916.5 268.5,916.4 270.0,916.7 271.6,916.9 273.2,916.9 274.7,916.9 276.3,917.3 277.8,917.7 279.4,917.4 281.0,917.0 282.5,917.2 284.1,917.2 285.6,917.3 287.2,917.2 288.8,916.6 290.3,916.2 291.9,916.7 293.4,917.1 295.0,917.0 296.6,917.2 298.1,917.3 299.7,917.1 301.2,917.5 302.8,917.8 304.4,917.7 305.9,917.5 307.5,917.6 309.0,917.5 310.6,916.7 312.2,916.1 313.7,915.5 315.3,914.3 316.8,912.7 318.4,911.0 320.0,908.2 321.5,903.7 323.0,901.0 324.6,901.1 326.2,903.6 327.8,905.4 329.3,907.9 330.9,911.1 332.4,913.5 334.0,914.8 335.6,915.4 337.1,915.4 338.7,915.7 340.3,916.5 341.8,917.1 343.4,917.3 344.9,917.5 346.5,917.6 348.1,917.3 349.6,916.6 351.2,916.8 352.7,917.4 354.3,917.3 355.9,917.1 357.4,917.4 359.0,917.3 360.5,917.2 362.1,917.5 363.7,917.3 365.2,917.1 366.8,917.4 368.3,917.3 369.9,916.9 371.5,916.6 373.0,916.3 374.6,916.6 376.1,917.0 377.7,916.9 379.3,916.8 380.8,917.0 382.4,917.2 383.9,917.4 385.5,917.1 387.1,917.0 388.6,917.4 390.2,917.6 391.7,917.2 393.3,916.7 394.9,916.5 396.4,917.0 398.0,917.2 399.5,916.9 401.1,916.2 402.7,915.6 404.2,915.7 405.8,915.0 407.3,913.2 408.9,911.2 410.5,908.6 412.0,904.4 413.6,899.4 414.5,897.0 415.1,897.1 416.7,899.2 418.3,901.2 419.8,902.5 421.4,905.8 423.0,909.9 424.5,912.1 426.1,913.1 427.6,914.1 429.2,915.2 430.8,915.8 432.3,915.8 433.9,915.8 435.4,916.1 437.0,916.1 438.6,916.0 440.1,915.9 441.7,915.3 443.2,915.3 444.8,915.7 446.4,915.6 447.9,915.3 449.5,915.2 451.0,914.8 452.6,913.2 454.2,910.7 455.7,907.3 457.5,904.0 458.8,904.3 460.4,906.4 462.0,907.8 463.5,908.7 465.1,910.8 466.6,912.8 468.2,914.0 469.8,914.9 471.3,915.9 472.9,916.5 474.4,916.5 476.0,916.3 477.6,916.6 479.1,917.2 480.7,917.5 482.2,917.6 483.8,917.7 485.4,917.8 486.9,917.5 488.5,917.1 490.0,917.0 491.6,916.6 493.2,916.0 494.7,916.6 496.3,917.4 497.9,916.7 499.4,916.0 501.0,916.5 502.5,917.0 504.1,916.6 505.7,915.7 507.2,914.5 508.8,913.2 510.8,911.5 511.9,912.1 513.5,912.7 515.0,913.4 516.6,913.8 518.1,914.2 519.7,915.0 521.3,915.5 522.8,915.8 524.4,916.2 525.9,916.0 527.5,915.5 529.1,915.1 530.6,915.5 532.2,916.0 533.7,915.8 535.3,915.6 536.9,915.6 538.4,915.5 540.0,915.0 541.5,913.9 543.1,912.8 544.7,911.0 546.2,907.8 547.8,902.3 549.3,895.4 550.8,891.5 552.5,894.3 554.0,897.5 555.6,898.8 557.1,901.3 558.7,905.6 560.3,909.7 561.8,912.5 563.4,913.7 564.9,914.3 566.5,914.8 568.1,915.3 569.6,916.0 571.2,916.7 572.8,916.7 574.3,916.7 575.9,917.0 577.4,916.8 579.0,917.1 580.6,917.5 582.1,917.3 583.7,917.1 585.2,917.0 586.8,917.2 588.4,917.1 589.9,916.6 591.5,916.8 593.0,917.2 594.6,916.9 596.2,916.7 597.7,916.9 599.3,917.3 600.8,917.9 602.4,918.2 604.0,917.5 605.5,916.9 607.1,917.0 608.6,917.4 610.2,918.0 611.8,918.4 613.3,918.4 614.9,918.7 616.4,918.7 618.0,918.1 619.6,917.6 621.1,917.5 622.7,917.5 624.2,918.0 625.8,918.3 627.4,918.4 628.9,917.9 630.5,917.4 632.0,917.9 633.6,918.6 635.2,918.4 636.7,917.7 638.3,917.4 639.8,917.5 641.4,917.2 643.0,917.0 644.5,917.6 646.1,918.3 647.6,917.7 649.2,917.1 650.8,917.2 652.3,917.6 653.9,918.0 655.5,918.0 657.0,917.6 658.6,917.2 660.1,916.9 661.7,916.3 663.3,916.3 664.8,916.7 666.4,916.5 667.9,916.0 669.5,915.5 671.1,915.0 672.6,914.3 674.2,913.4 675.7,913.0 677.3,912.4 678.9,911.1 680.4,909.1 682.0,905.9 683.5,900.4 685.1,891.1 686.7,876.8 688.2,860.2 689.5,852.0 691.3,859.4 692.9,868.3 694.5,871.9 696.0,876.6 697.6,886.7 699.1,896.6 700.7,903.4 702.3,907.5 703.8,909.4 705.4,910.7 706.9,912.0 708.5,912.4 710.1,913.0 711.6,914.3 713.2,914.9 714.7,914.8 716.3,914.6 717.9,914.5 719.4,914.6 721.0,914.4 722.5,914.1 724.1,913.4 725.7,912.5 727.2,912.3 728.8,912.0 730.4,911.6 731.9,910.8 733.5,909.6 735.0,908.7 736.6,907.5 738.2,905.7 739.7,903.7 741.3,900.8 742.8,896.0 744.4,888.8 746.0,879.0 746.8,875.9 747.5,876.0 749.1,881.2 750.6,883.7 752.2,882.0 753.2,880.0 755.3,881.8 756.9,880.9 758.4,876.9 760.2,867.1 761.6,855.4 762.3,845.7 763.6,800.0 765.1,757.0 766.1,710.7 767.7,682.3 769.4,682.7 771.2,684.5 772.5,677.9 773.5,665.0 775.4,643.4 776.2,667.9 777.2,688.0 778.4,710.7 780.0,756.0 781.8,773.1 783.8,800.0 785.0,818.7 787.0,845.7 788.1,855.8 789.6,867.6 791.2,875.9 792.8,881.8 794.3,886.0 795.0,886.8 795.9,887.7 797.4,885.9 799.0,881.1 800.6,873.6 801.6,867.1 803.7,848.1 805.2,824.3 806.3,796.4 807.3,775.0 808.2,753.6 810.5,715.8 811.5,733.5 812.1,753.6 812.9,775.0 813.9,783.0 814.6,791.4 816.4,802.9 817.7,809.9 818.6,824.3 819.3,835.1 820.9,844.2 822.9,845.7 824.0,848.1 825.5,850.2 827.1,852.1 828.2,854.3 830.2,859.7 831.8,863.0 833.3,861.5 834.9,851.8 836.8,837.4 838.0,843.8 839.5,856.4 841.1,869.8 843.2,877.9 844.3,884.0 846.4,899.3 847.4,904.8 848.9,907.8 850.5,908.0 852.1,907.6 853.9,908.4 855.2,908.7 856.7,909.4 858.3,909.7 859.9,908.7 861.4,906.3 863.4,903.8 864.5,905.3 866.1,908.5 867.7,909.3 869.2,909.0 870.8,909.8 872.3,911.9 873.9,913.4 875.5,914.2 877.0,914.7 878.6,915.2 880.1,915.5 881.7,916.1 883.3,916.9 884.8,917.3 886.4,917.6 888.0,917.7 889.5,917.5 891.1,917.5 892.6,917.4 894.2,917.5 895.8,917.5 897.3,916.7 898.9,916.0 900.4,916.2 902.0,916.5 903.6,915.5 905.1,914.5 906.7,914.2 908.2,913.4 909.8,912.4 911.4,911.1 912.9,910.0 914.5,909.6 916.0,909.0 917.6,908.3 919.2,908.0 920.7,908.1 922.3,908.4 923.8,908.4 925.4,907.8 927.0,906.8 928.5,906.2 930.1,905.9 931.6,905.3 933.2,903.9 934.8,901.5 936.3,898.1 937.9,892.7 939.4,883.5 941.0,868.1 942.6,842.9 944.1,808.4 945.8,785.5 947.2,797.9 948.8,821.7 950.4,833.4 951.9,836.3 953.5,846.9 955.0,866.0 956.6,882.3 958.2,892.7 959.7,899.5 961.3,904.4 962.9,907.2 964.4,908.7 966.0,910.0 967.5,911.2 969.1,912.3 970.7,913.5 972.2,913.9 973.8,913.8 975.3,913.8 976.9,914.0 978.5,914.7 980.0,915.6 981.6,915.7 983.1,915.5 984.7,915.3 986.3,915.2 987.8,915.7 989.4,916.2 990.9,916.4 992.5,916.2 994.1,916.1 995.6,916.2 997.2,916.4 998.7,916.7 1000.3,916.7 1001.9,916.4 1003.4,916.2 1005.0,915.8 1006.5,915.6 1008.1,915.3 1009.7,914.5 1011.2,912.6 1012.8,909.3 1014.3,904.4 1015.9,898.0 1017.5,894.0 1019.0,896.6 1020.6,900.8 1022.1,902.7 1023.7,902.6 1025.3,903.6 1026.8,906.9 1028.4,911.1 1029.9,913.9 1031.5,915.0 1033.1,916.0 1034.6,916.4 1036.2,916.4 1037.7,916.6 1039.3,916.6 1040.9,917.0 1042.4,917.5 1044.0,917.3 1045.6,917.2 1047.1,917.5 1048.7,917.3 1050.2,917.2 1051.8,917.3 1053.4,917.3 1054.9,916.9 1056.5,917.2 1058.0,917.7 1059.6,917.4 1061.2,916.7 1062.7,916.6 1064.3,917.4 1065.8,918.3 1067.4,918.7 1069.0,919.0 1070.5,918.6 1072.1,918.0 1073.6,917.9 1075.2,918.1 1076.8,917.8 1078.3,917.5 1079.9,917.3 1081.4,917.8 1083.0,918.2 1084.6,917.9 1086.1,917.3 1087.7,917.0 1089.2,917.7 1090.8,918.1 1092.4,918.1 1093.9,917.7 1095.5,917.0 1097.0,917.0 1098.6,917.4 1100.2,917.3 1101.7,917.0 1103.3,917.0 1104.8,917.2 1106.4,917.2 1108.0,916.8 1109.5,916.4 1111.1,916.4 1112.6,916.5 1114.2,916.5 1115.8,915.6 1117.3,914.6 1118.9,913.9 1120.5,912.7 1122.0,910.5 1123.6,906.3 1125.1,899.8 1126.7,892.1 1128.0,888.5 1129.8,891.6 1131.4,896.5 1132.9,898.3 1134.5,897.4 1136.1,898.4 1137.6,901.9 1139.2,904.5 1140.7,904.5 1142.3,901.9 1143.9,899.3 1144.5,899.0 1145.4,900.3 1147.0,903.6 1148.5,905.3 1150.1,905.1 1151.7,905.1 1153.2,907.2 1154.8,909.7 1156.3,911.1 1157.9,912.3 1159.5,913.2 1161.0,913.2 1162.6,912.9 1164.1,912.5 1165.7,911.6 1167.3,910.2 1168.8,908.6 1170.4,905.3 1171.9,899.5 1173.5,891.2 1175.1,880.6 1176.2,875.0 1178.2,877.9 1179.7,880.4 1181.3,875.6 1182.9,865.8 1184.5,861.5 1186.0,869.6 1187.5,879.4 1189.1,883.9 1190.7,884.3 1192.2,885.7 1193.8,891.0 1195.3,897.2 1196.9,903.1 1198.5,908.0 1200.0,911.2 1201.6,912.9 1203.2,914.1 1204.7,915.7 1206.3,916.8 1207.8,916.7 1209.4,916.9 1211.0,917.2 1212.5,917.2 1214.1,917.4 1215.6,917.3 1217.2,917.7 1218.8,918.8 1220.3,919.1 1221.9,918.6 1223.4,918.3 1225.0,917.8 1226.6,917.8 1228.1,918.0 1229.7,917.4 1231.2,917.3 1232.8,917.5 1234.4,917.6 1235.9,918.3 1237.5,918.5 1239.0,918.3 1240.6,918.1 1242.2,917.7 1243.7,917.7 1245.3,918.3 1246.8,918.6 1248.4,918.3 1250.0,918.0 1251.5,918.2 1253.1,918.3 1254.6,917.8 1256.2,917.6 1257.8,917.6 1259.3,917.4 1260.9,917.4 1262.4,917.9 1264.0,918.7 1265.6,919.1 1267.1,918.4 1268.7,917.7 1270.2,917.8 1271.8,918.1 1273.4,918.1 1274.9,918.2 1276.5,918.0 1278.1,917.5 1279.6,917.6 1281.2,918.1 1282.7,918.1 1284.3,917.7 1285.9,916.9 1287.4,915.8 1289.0,914.5 1290.5,914.0 1292.1,914.3 1293.7,915.3 1295.2,916.3 1296.8,916.3 1298.3,916.0 1299.9,916.6 1301.5,917.4 1303.0,917.6 1304.6,917.6 1306.1,917.4 1307.7,916.6 1309.3,916.3 1310.8,916.4 1312.4,915.9 1313.9,914.5 1315.5,912.5 1317.0,911.0 1318.6,912.4 1320.2,913.2 1321.7,912.6 1323.3,911.7 1324.9,911.1 1326.0,911.0 1328.0,911.7 1329.5,912.0 1331.1,912.4 1332.7,912.4 1334.2,911.0 1335.8,908.9 1337.3,906.1 1338.9,901.4 1340.5,892.9 1342.0,878.8 1343.6,861.2 1345.0,851.5 1346.7,860.9 1348.3,873.1 1349.8,878.8 1351.4,878.1 1353.0,878.0 1354.5,885.2 1356.1,894.8 1357.6,902.3 1359.2,907.3 1360.8,910.4 1362.3,913.1 1363.9,914.9 1365.4,915.0 1367.0,915.2 1368.6,916.3 1370.1,917.1 1371.7,917.7 1373.2,917.9 1374.8,917.7 1376.4,917.3 1377.9,917.1 1379.5,917.7 1381.0,918.1 1382.6,917.7 1384.2,917.4 1385.7,917.7 1387.3,918.0 1388.8,918.1 1390.4,918.7 1392.0,919.2 1393.5,918.8 1395.1,918.1 1396.6,918.2 1398.2,918.3 1399.8,918.3 1401.3,918.7 1402.9,918.5 1404.4,918.0 1406.0,918.3 1407.6,918.7 1409.1,918.6 1410.7,918.2 1412.2,918.2 1413.8,918.6 1415.4,918.5 1416.9,918.0 1418.5,918.2 1420.0,918.9 1421.6,918.5 1423.2,917.9 1424.7,917.9 1426.3,917.8 1427.8,917.5 1429.4,917.6 1431.0,917.9 1432.5,917.7 1434.1,917.5 1435.7,917.0 1437.2,916.2 1438.8,916.1 1440.3,915.9 1441.9,915.2 1443.5,914.8 1445.0,914.6 1446.6,914.3 1448.1,913.9 1449.7,913.3 1451.3,912.5 1452.8,911.7 1454.4,910.8 1455.9,910.3 1457.5,909.8 1459.1,909.2 1460.6,908.7 1462.2,907.7 1463.7,905.8 1465.3,903.1 1466.9,898.4 1468.4,890.6 1470.0,879.2 1472.0,866.0 1473.1,864.5 1474.7,864.6 1476.2,857.7 1477.8,837.0 1479.3,803.5 1481.5,773.0 1482.5,782.2 1484.0,813.6 1485.6,837.3 1487.1,845.2 1488.7,843.3 1490.3,846.6 1491.8,862.3 1493.4,879.5 1494.9,892.0 1496.5,899.8 1498.1,904.5 1499.6,906.9 1501.2,908.2 1502.7,909.1 1504.3,909.9 1505.9,910.2 1507.4,909.9 1509.0,909.7 1510.6,908.7 1512.1,905.4 1513.7,899.8 1515.2,891.5 1516.8,883.0 1517.5,882.0 1518.4,882.9 1519.9,890.2 1521.5,896.1 1523.0,898.0 1524.6,896.6 1526.2,896.1 1527.7,900.0 1529.3,904.7 1530.8,908.3 1532.4,911.4 1534.0,913.5 1535.5,914.2 1537.1,914.4 1538.6,914.7 1540.2,914.5 1541.8,913.4 1543.3,912.2 1545.0,911.0 1546.4,912.1 1548.0,913.4 1549.6,914.4 1551.1,914.6 1552.7,914.3 1554.2,914.9 1555.8,915.7 1557.4,915.9 1558.9,916.7 1560.5,917.8 1562.0,917.9 1563.6,917.4 1565.2,916.6 1566.7,915.6 1568.3,913.4 1569.8,909.7 1571.4,905.4 1573.2,901.5 1574.5,904.0 1576.1,907.0 1577.6,908.7 1579.2,909.1 1580.8,908.9 1582.3,909.5 1583.9,911.5 1585.4,914.0 1587.0,916.1 1588.6,917.5 1590.1,918.0 1591.7,918.2 1593.3,919.1 1594.8,920.1 1596.4,920.3 1597.9,920.6 1599.5,920.2 1601.1,919.7 1602.6,919.8 1604.2,919.7 1605.7,919.4 1607.3,919.2 1608.9,919.4 1610.4,919.4 1612.0,918.9 1613.5,918.2 1615.1,917.4 1616.7,916.7 1618.2,916.2 1620.0,916.0 1621.3,915.9 1622.9,916.7 1624.5,916.8 1626.0,916.2 1627.6,915.9 1629.1,915.7 1630.7,914.8 1632.3,913.4 1633.8,911.9 1635.4,909.3 1637.5,905.5 1638.5,906.5 1640.1,908.9 1641.6,910.3 1643.2,909.8 1644.7,908.1 1646.3,906.6 1647.9,906.1 1648.8,906.0 1649.4,907.6 1651.0,910.3 1652.5,912.3 1654.1,913.3 1655.7,913.9 1657.2,914.0 1658.8,914.5 1660.3,915.4 1661.9,916.3 1663.5,917.4 1665.0,917.8 1666.6,918.1 1668.2,917.9 1669.7,917.0 1671.3,916.7 1672.8,917.2 1674.4,918.0 1676.0,918.5 1677.5,918.4 1679.1,918.3 1680.6,917.9 1682.2,917.7 1683.8,917.8 1685.3,917.9 1686.9,917.8 1688.4,918.0 1690.0,918.1 1691.6,917.7 1693.1,917.3 1694.7,917.0 1696.2,916.6 1697.8,916.5 1699.4,916.5 1700.9,915.4 1702.5,913.5 1704.0,911.3 1705.6,907.7 1707.2,901.1 1708.7,891.7 1710.5,884.0 1711.8,887.1 1713.4,894.0 1715.0,898.3 1716.5,898.7 1718.1,896.3 1719.6,895.1 1721.2,897.2 1722.8,899.6 1724.3,900.4 1725.9,899.4 1727.4,897.9 1729.5,896.0 1730.6,896.7 1732.1,900.8 1733.7,904.0 1735.2,904.5 1736.8,902.5 1738.4,900.3 1739.9,900.2 1741.5,901.5 1743.1,902.8 1744.6,903.6 1746.2,904.1 1747.7,903.5 1749.3,900.2 1750.9,894.3 1752.0,891.0 1754.0,894.3 1755.5,897.2 1757.1,896.2 1758.7,891.2 1760.2,882.9 1762.0,878.0 1763.3,883.0 1764.9,892.1 1766.5,898.7 1768.0,900.4 1769.6,898.9 1771.1,898.9 1772.7,902.9 1774.3,907.4 1775.8,910.4 1777.4,912.8 1778.9,914.7 1780.5,915.5 1782.1,915.8 1783.6,916.2 1785.2,916.6 1786.7,917.0 1788.3,917.4 1789.9,917.5 1791.4,917.7 1793.0,917.9 1794.5,917.6 1796.1,916.8 1797.7,916.1 1799.2,915.5 1800.8,914.9 1802.3,914.3 1803.9,913.7 1805.5,913.6 1807.0,912.9 1808.6,911.4 1810.1,910.2 1811.7,909.6 1813.3,909.3 1814.8,908.7 1816.4,907.1 1817.9,904.7 1819.5,901.0 1821.1,894.6 1822.6,885.1 1824.0,878.8 1825.8,881.7 1827.3,885.5 1828.9,883.1 1830.4,872.8 1832.0,857.6 1833.5,849.8 1835.1,860.0 1836.7,874.4 1838.2,882.4 1839.8,884.1 1841.4,882.0 1842.9,881.5 1844.5,887.3 1846.0,895.4 1847.6,902.1 1849.2,906.7 1850.7,909.6 1852.3,912.3 1853.8,914.8 1855.4,916.2 1857.0,916.8 1858.5,917.3 1860.1,917.8 1861.6,918.9 1863.2,919.3 1864.8,918.9 1866.3,918.5 1867.9,918.3 1869.4,919.1 1871.0,919.6 1872.6,919.6 1874.1,919.7 1875.7,919.5 1877.2,919.0 1878.8,919.0 1880.4,919.4 1881.9,919.7 1883.5,919.5 1885.0,919.3 1886.6,919.3 1888.2,919.5 1889.7,920.0 1891.3,919.7 1892.8,919.2 1894.4,919.5 1896.0,920.0 1897.5,920.2 1899.1,920.0 1900.7,919.6 1902.2,919.8 1903.8,919.9 1905.3,920.1 1906.9,920.1 1908.5,919.2 1910.0,918.8 1911.6,918.9 1913.1,918.6 1914.7,918.7 1916.3,919.5 1917.8,920.0 1919.4,919.8 1920.9,920.4 1922.5,921.1 1924.1,920.4 1925.6,919.6 1927.2,919.7 1928.7,919.8 1930.3,919.8 1931.9,919.9 1933.4,920.0 1935.0,920.1 1936.5,919.9 1938.1,919.5 1939.7,919.1 1941.2,919.0 1942.8,919.3 1944.3,919.5 1945.9,919.6 1947.5,919.5 1949.0,919.8 1950.6,920.2 1952.1,920.1 1953.7,919.7 1955.3,919.4 1956.8,919.7 1958.4,919.9 1959.9,919.3 1961.5,918.8 1963.1,918.5 1964.6,917.2 1966.2,915.2 1967.7,912.9 1969.3,909.4 1970.9,905.1 1972.0,903.5 1974.0,907.1 1975.5,910.3 1977.1,911.3 1978.7,910.5 1980.2,908.7 1981.8,907.5 1983.4,908.9 1984.9,911.3 1986.5,913.2 1988.0,914.2 1989.6,914.9 1991.2,915.0 1992.7,914.2 1994.3,913.8 1995.8,913.4 1997.4,912.0 1999.0,909.2 2000.5,905.8 2002.1,902.2 2002.8,901.0 2003.6,901.1 2005.2,903.2 2006.8,904.0 2008.3,901.0 2009.9,894.6 2012.0,887.2 2013.0,888.1 2014.6,894.9 2016.1,901.2 2017.7,904.1 2019.2,903.9 2020.8,902.5 2022.4,903.0 2023.9,906.3 2025.5,910.1 2027.0,912.7 2028.6,914.3 2030.2,915.7 2031.7,916.8 2033.3,917.2 2034.8,917.4 2036.4,917.4 2038.0,917.5 2039.5,918.5 2041.1,918.8 2042.6,918.7 2044.2,918.9 2045.8,918.8 2047.3,918.4 2048.9,918.9 2050.4,919.7 2052.0,920.1 2053.6,920.5 2055.1,920.8 2056.7,920.3 2058.3,919.4 2059.8,919.6 2061.4,920.2 2062.9,920.1 2064.5,919.8 2066.1,919.7 2067.6,919.7 2069.2,920.1 2070.7,920.5 2072.3,920.6 2073.9,920.7 2075.4,920.7 2077.0,920.2 2078.5,920.0 2080.1,919.9 2081.7,919.9 2083.2,920.6 2084.8,921.0 2086.3,920.7 2087.9,920.2 2089.5,920.3 2091.0,920.4 2092.6,920.1 2094.1,920.1 2095.7,920.4 2097.3,920.5 2098.8,920.6 2100.4,921.2 2101.9,921.6 2103.5,921.0 2105.1,920.4 2106.6,920.4 2108.2,920.6 2109.7,920.2 2111.3,919.5 2112.9,918.3 2114.4,916.8 2116.0,914.9 2117.8,913.0 2119.1,913.4 2120.7,915.1 2122.2,917.0 2123.8,917.3 2125.3,916.1 2126.9,914.9 2128.5,914.6 2130.0,915.6 2131.6,917.1 2133.2,918.1 2134.7,919.0 2136.3,920.0 2137.8,920.6 2139.4,920.6 2141.0,920.7 2142.5,920.8 2144.1,920.7 2145.6,920.8 2147.2,921.3 2148.8,921.4 2150.3,920.9 2151.9,920.4 2153.4,919.9 2155.0,918.8 2156.6,918.0 2158.1,917.9 2159.7,917.1 2161.2,915.9 2162.8,915.0 2164.4,914.9 2165.9,915.0 2167.5,914.7 2169.0,914.5 2170.6,914.3 2172.2,914.4"/>
<polyline fill="none" stroke="#000000" stroke-width="6.6" stroke-linejoin="round" stroke-linecap="butt" points="218.5,1143.9 220.1,1144.3 221.7,1144.9 223.2,1145.0 224.8,1145.2 226.3,1145.2 227.9,1144.7 229.5,1144.4 231.0,1144.7 232.6,1144.7 234.1,1144.4 235.7,1144.5 237.3,1144.8 238.8,1144.8 240.4,1144.4 241.9,1144.0 243.5,1144.1 245.1,1144.7 246.6,1144.9 248.2,1145.0 249.7,1145.2 251.3,1145.5 252.9,1145.4 254.4,1145.1 256.0,1144.9 257.5,1144.7 259.1,1144.5 260.7,1144.3 262.2,1144.6 263.8,1145.0 265.4,1144.7 266.9,1144.3 268.5,1144.1 270.0,1144.4 271.6,1145.0 273.2,1144.9 274.7,1144.4 276.3,1144.2 277.8,1144.3 279.4,1144.0 281.0,1143.9 282.5,1144.3 284.1,1144.7 285.6,1144.8 287.2,1144.7 288.8,1144.5 290.3,1144.4 291.9,1144.8 293.4,1145.0 295.0,1144.8 296.6,1144.7 298.1,1144.7 299.7,1144.9 301.2,1144.9 302.8,1144.8 304.4,1144.9 305.9,1144.8 307.5,1144.3 309.0,1143.8 310.6,1143.7 312.2,1143.6 313.7,1143.1 315.3,1142.6 316.8,1142.3 318.4,1141.3 320.0,1138.4 321.5,1133.9 323.1,1129.6 324.3,1128.5 326.2,1129.2 327.8,1131.8 329.3,1133.8 330.9,1135.7 332.4,1138.2 334.0,1140.6 335.6,1142.0 337.1,1142.5 338.7,1142.9 340.3,1143.4 341.8,1143.5 343.4,1143.0 344.9,1143.3 346.5,1144.3 348.1,1144.6 349.6,1144.1 351.2,1143.8 352.7,1143.9 354.3,1143.9 355.9,1144.4 357.4,1145.0 359.0,1145.0 360.5,1144.9 362.1,1144.7 363.7,1144.8 365.2,1144.8 366.8,1144.3 368.3,1144.2 369.9,1144.5 371.5,1144.9 373.0,1145.3 374.6,1144.8 376.1,1144.1 377.7,1144.1 379.3,1144.1 380.8,1144.4 382.4,1144.9 383.9,1144.5 385.5,1144.3 387.1,1144.4 388.6,1144.7 390.2,1144.7 391.7,1144.4 393.3,1144.5 394.9,1144.4 396.4,1143.8 398.0,1143.4 399.5,1143.5 401.1,1143.7 402.7,1143.1 404.2,1142.2 405.8,1141.9 407.3,1141.2 408.9,1138.8 410.5,1134.9 412.0,1129.8 413.8,1125.5 415.1,1126.1 416.7,1128.7 418.3,1129.9 419.8,1132.1 421.4,1136.2 423.0,1139.1 424.5,1140.4 426.1,1141.1 427.6,1141.8 429.2,1142.5 430.8,1142.8 432.3,1142.7 433.9,1142.6 435.4,1143.2 437.0,1143.7 438.6,1143.5 440.1,1143.4 441.7,1143.5 443.2,1143.8 444.8,1143.8 446.4,1143.2 447.9,1142.9 449.5,1142.7 451.0,1142.2 452.6,1141.1 454.2,1139.7 455.7,1136.9 457.3,1133.0 458.8,1131.0 460.4,1133.1 462.0,1134.6 463.5,1135.4 465.1,1137.1 466.6,1138.5 468.2,1139.3 469.8,1140.6 471.3,1141.9 472.9,1143.2 474.4,1143.5 476.0,1143.4 477.6,1143.7 479.1,1143.8 480.7,1144.0 482.2,1144.3 483.8,1144.3 485.4,1144.1 486.9,1143.8 488.5,1143.6 490.0,1143.9 491.6,1144.3 493.2,1144.6 494.7,1144.9 496.3,1144.5 497.9,1144.2 499.4,1144.2 501.0,1143.6 502.5,1142.7 504.1,1142.8 505.7,1143.8 507.2,1144.2 508.8,1144.1 510.3,1143.9 511.9,1144.3 513.5,1144.7 515.0,1144.1 516.6,1143.4 518.1,1143.5 519.7,1143.4 521.3,1141.8 522.8,1139.5 524.4,1137.5 526.2,1137.0 527.5,1137.2 529.1,1137.9 530.6,1137.4 532.2,1137.1 533.7,1137.8 535.3,1138.4 536.9,1138.6 538.4,1138.7 540.0,1139.1 541.5,1139.1 543.1,1138.2 544.7,1137.1 546.2,1135.3 547.8,1131.6 549.3,1125.6 551.2,1119.8 552.5,1121.0 554.0,1124.6 555.6,1126.5 557.1,1127.9 558.7,1131.6 560.3,1135.5 561.8,1138.5 563.4,1140.7 564.9,1141.9 566.5,1142.1 568.1,1141.4 569.6,1141.8 571.2,1142.5 572.8,1142.4 574.3,1142.6 575.9,1143.0 577.4,1142.1 579.5,1141.0 580.6,1141.3 582.1,1142.1 583.7,1142.3 585.2,1142.5 586.8,1142.8 588.4,1143.1 589.9,1143.7 591.5,1144.2 593.0,1144.7 594.6,1144.8 596.2,1144.7 597.7,1145.0 599.3,1145.2 600.8,1145.2 602.4,1145.2 604.0,1145.0 605.5,1144.9 607.1,1145.0 608.6,1145.3 610.2,1145.1 611.8,1144.4 613.3,1144.2 614.9,1144.3 616.4,1144.6 618.0,1145.1 619.6,1145.3 621.1,1145.4 622.7,1144.8 624.2,1143.9 625.8,1144.4 627.4,1145.6 628.9,1145.8 630.5,1145.0 632.0,1144.8 633.6,1145.0 635.2,1144.6 636.7,1144.6 638.3,1144.9 639.8,1144.6 641.4,1144.3 643.0,1144.5 644.5,1144.8 646.1,1144.4 647.6,1144.0 649.2,1144.3 650.8,1144.4 652.3,1144.2 653.9,1144.1 655.5,1144.2 657.0,1143.9 658.6,1143.6 660.1,1143.7 661.7,1143.7 663.3,1143.3 664.8,1142.6 666.4,1142.6 667.9,1143.0 669.5,1143.0 671.1,1142.5 672.6,1142.0 674.2,1141.7 675.7,1141.4 677.3,1140.6 678.9,1139.0 680.4,1137.0 682.0,1134.5 683.5,1130.5 685.1,1124.6 686.7,1114.7 688.2,1099.7 689.8,1084.5 690.5,1081.0 691.3,1081.8 692.9,1090.7 694.5,1097.5 696.0,1100.6 697.6,1107.0 699.1,1117.1 700.7,1125.7 702.3,1132.0 703.8,1136.0 705.4,1138.2 706.9,1139.5 708.5,1140.1 710.1,1141.1 711.6,1141.8 713.2,1141.5 714.7,1141.3 716.3,1141.2 717.9,1141.4 719.4,1141.0 721.0,1140.4 722.5,1139.8 724.1,1139.5 725.7,1140.0 727.2,1140.4 728.8,1139.6 730.4,1138.5 731.9,1138.0 733.5,1136.8 735.0,1134.9 736.6,1133.4 738.2,1131.4 739.7,1127.0 741.3,1119.5 742.5,1113.2 744.4,1106.6 745.7,1103.8 747.5,1103.7 749.1,1105.2 751.0,1104.4 752.2,1103.7 753.8,1103.3 755.3,1101.8 756.0,1100.0 756.9,1098.1 758.4,1091.1 760.2,1075.7 761.6,1050.0 762.4,1030.0 763.2,1010.0 764.5,983.0 766.1,934.3 767.1,914.5 767.8,912.2 769.4,923.4 770.4,925.7 773.0,905.0 774.0,888.0 775.4,886.5 776.2,912.9 777.2,932.5 778.4,955.7 780.0,982.5 781.8,1002.5 783.5,1026.0 785.4,1052.0 786.6,1075.7 788.1,1091.9 789.6,1102.5 791.2,1108.8 792.8,1113.0 794.7,1116.2 795.9,1116.9 797.4,1115.5 799.0,1111.5 800.6,1105.3 802.0,1097.0 803.7,1063.5 804.3,1052.0 805.7,1022.0 806.8,1005.0 807.9,977.1 809.1,927.5 809.9,926.9 811.1,955.7 812.7,998.6 814.5,1012.7 816.2,1013.8 817.2,1031.8 818.6,1050.0 819.3,1054.3 820.9,1056.0 821.8,1057.0 822.4,1060.1 824.0,1067.1 826.1,1075.7 827.1,1077.9 828.7,1079.5 830.4,1083.2 831.8,1086.4 833.3,1087.6 834.9,1081.6 836.5,1067.9 837.3,1064.7 838.0,1067.6 840.0,1086.4 841.1,1095.1 842.7,1101.4 844.3,1107.9 846.4,1123.9 847.4,1128.4 848.9,1128.9 849.6,1128.8 850.5,1129.2 852.1,1128.6 853.6,1127.5 855.0,1127.9 856.7,1129.5 858.3,1131.0 859.9,1131.7 861.4,1132.7 862.5,1133.6 864.5,1135.6 866.1,1136.3 867.7,1137.4 869.2,1138.5 870.8,1139.0 872.3,1139.1 873.9,1139.9 875.5,1140.5 877.0,1141.0 878.6,1141.7 880.1,1141.8 881.7,1141.6 883.3,1142.1 884.8,1143.0 886.4,1143.2 888.0,1143.0 889.5,1142.9 891.1,1143.1 892.6,1142.9 894.2,1142.3 895.8,1142.0 897.3,1142.2 898.9,1142.2 900.4,1141.9 902.0,1141.5 903.6,1141.2 905.1,1140.8 906.7,1140.6 908.2,1140.0 909.8,1139.0 911.4,1138.4 912.9,1138.2 914.5,1138.0 916.0,1137.8 917.6,1136.9 919.2,1136.3 920.7,1136.7 922.3,1137.3 923.8,1136.9 925.4,1135.8 927.0,1135.3 928.5,1134.9 930.1,1134.0 931.6,1133.0 933.2,1131.6 934.8,1129.4 936.3,1126.4 937.9,1121.8 939.4,1113.9 941.0,1100.0 942.6,1077.1 944.1,1043.1 946.2,1007.2 947.2,1012.4 948.8,1037.5 950.4,1053.5 951.9,1056.7 953.5,1063.0 955.0,1081.3 956.6,1101.0 958.2,1115.1 959.7,1124.1 961.3,1130.0 962.9,1133.1 964.4,1134.5 966.0,1136.5 967.5,1138.3 969.1,1139.1 970.7,1140.0 972.2,1140.9 973.8,1141.5 975.3,1141.8 976.9,1141.8 978.5,1141.7 980.0,1141.3 981.6,1141.3 983.1,1141.9 984.7,1142.4 986.3,1142.3 987.8,1142.4 989.4,1142.9 990.9,1143.1 992.5,1142.9 994.1,1143.1 995.6,1143.7 997.2,1143.9 998.7,1143.3 1000.3,1143.0 1001.9,1143.1 1003.4,1143.6 1005.0,1143.4 1006.5,1142.1 1008.1,1140.4 1009.7,1139.3 1011.2,1137.8 1012.8,1133.8 1014.3,1127.7 1015.9,1121.1 1017.0,1118.0 1019.0,1121.8 1020.6,1125.6 1022.1,1127.5 1023.7,1128.4 1025.3,1130.9 1026.8,1134.5 1028.4,1137.9 1029.9,1140.3 1031.5,1141.6 1033.1,1142.9 1034.6,1143.9 1036.2,1143.9 1037.7,1143.9 1039.3,1144.6 1040.9,1145.2 1042.4,1145.3 1044.0,1145.1 1045.6,1144.7 1047.1,1145.1 1048.7,1145.4 1050.2,1145.2 1051.8,1145.0 1053.4,1145.2 1054.9,1145.5 1056.5,1145.2 1058.0,1144.9 1059.6,1145.1 1061.2,1145.4 1062.7,1145.3 1064.3,1144.9 1065.8,1144.8 1067.4,1145.5 1069.0,1146.0 1070.5,1145.4 1072.1,1144.7 1073.6,1144.7 1075.2,1144.5 1076.8,1144.1 1078.3,1144.4 1079.9,1144.8 1081.4,1145.3 1083.0,1145.7 1084.6,1145.7 1086.1,1145.4 1087.7,1145.0 1089.2,1145.0 1090.8,1145.2 1092.4,1145.3 1093.9,1144.9 1095.5,1144.9 1097.0,1145.4 1098.6,1145.3 1100.2,1144.8 1101.7,1144.8 1103.3,1144.9 1104.8,1144.9 1106.4,1144.9 1108.0,1144.7 1109.5,1144.2 1111.1,1143.5 1112.6,1143.0 1114.2,1143.0 1115.8,1143.0 1117.3,1142.0 1118.9,1140.3 1120.5,1138.1 1122.0,1134.6 1123.6,1129.4 1125.1,1122.0 1127.0,1114.0 1128.3,1116.6 1129.8,1121.4 1131.4,1123.4 1132.9,1122.5 1134.5,1122.3 1136.1,1125.1 1137.6,1128.7 1139.2,1130.5 1140.7,1130.8 1142.3,1130.2 1143.9,1127.9 1145.0,1126.0 1147.0,1129.3 1148.5,1132.2 1150.1,1132.7 1151.7,1132.2 1153.2,1133.3 1154.8,1135.7 1156.3,1137.9 1157.9,1139.1 1159.5,1139.5 1161.0,1139.5 1162.6,1139.5 1164.1,1139.0 1165.7,1138.4 1167.3,1137.6 1168.8,1135.5 1170.4,1132.1 1171.9,1126.8 1173.5,1118.2 1175.1,1108.2 1176.2,1103.8 1178.2,1106.7 1179.7,1109.7 1181.3,1106.6 1182.9,1097.4 1185.0,1090.5 1186.0,1095.3 1187.5,1105.1 1189.1,1111.1 1190.7,1111.9 1192.2,1111.6 1193.8,1115.1 1195.3,1121.8 1196.9,1128.5 1198.5,1133.5 1200.0,1137.6 1201.6,1140.6 1203.2,1141.4 1204.7,1141.9 1206.3,1142.9 1207.8,1143.9 1209.4,1144.0 1211.0,1143.9 1212.5,1144.1 1214.1,1143.9 1215.6,1143.8 1217.2,1144.5 1218.8,1145.3 1220.3,1145.4 1221.9,1144.8 1223.4,1144.7 1225.0,1145.2 1226.6,1145.4 1228.1,1145.6 1229.7,1145.8 1231.2,1145.6 1232.8,1145.3 1234.4,1145.1 1235.9,1145.2 1237.5,1145.3 1239.0,1145.4 1240.6,1145.2 1242.2,1144.8 1243.7,1144.9 1245.3,1145.2 1246.8,1145.2 1248.4,1145.1 1250.0,1145.2 1251.5,1145.9 1253.1,1146.0 1254.6,1145.7 1256.2,1145.5 1257.8,1145.3 1259.3,1145.0 1260.9,1144.9 1262.4,1145.3 1264.0,1145.6 1265.6,1145.7 1267.1,1145.9 1268.7,1145.8 1270.2,1145.3 1271.8,1145.0 1273.4,1145.0 1274.9,1144.9 1276.5,1145.1 1278.1,1145.7 1279.6,1145.6 1281.2,1145.2 1282.7,1144.7 1284.3,1144.0 1285.9,1143.5 1287.4,1142.6 1289.0,1141.6 1290.5,1140.7 1292.0,1139.8 1293.7,1140.7 1295.2,1141.7 1296.8,1142.2 1298.3,1142.6 1299.9,1143.2 1301.5,1143.6 1303.0,1143.7 1304.6,1144.5 1306.1,1145.1 1307.7,1144.8 1309.3,1144.4 1310.8,1143.7 1312.4,1143.0 1313.9,1142.4 1315.5,1141.2 1317.1,1139.5 1318.0,1139.5 1318.6,1138.7 1320.2,1139.4 1321.7,1140.3 1323.3,1140.4 1324.9,1139.8 1327.0,1139.5 1328.0,1139.8 1329.5,1140.5 1331.1,1140.4 1332.7,1139.9 1334.2,1138.7 1335.8,1137.1 1337.3,1134.6 1338.9,1130.5 1340.5,1124.0 1342.0,1112.6 1343.6,1096.1 1345.5,1082.2 1346.7,1086.1 1348.3,1098.4 1349.8,1106.3 1351.4,1107.4 1353.0,1106.1 1354.5,1110.4 1356.1,1119.7 1357.6,1127.6 1359.2,1133.1 1360.8,1136.6 1362.3,1138.4 1363.9,1139.9 1365.4,1141.5 1367.0,1142.9 1368.6,1143.6 1370.1,1144.1 1371.7,1144.8 1373.2,1144.8 1374.8,1144.8 1376.4,1145.6 1377.9,1145.7 1379.5,1145.4 1381.0,1145.4 1382.6,1145.3 1384.2,1145.8 1385.7,1146.7 1387.3,1146.7 1388.8,1146.4 1390.4,1146.1 1392.0,1145.8 1393.5,1146.0 1395.1,1146.0 1396.6,1145.7 1398.2,1146.0 1399.8,1146.3 1401.3,1146.3 1402.9,1146.2 1404.4,1145.8 1406.0,1145.6 1407.6,1145.5 1409.1,1145.2 1410.7,1145.6 1412.2,1146.5 1413.8,1146.8 1415.4,1146.0 1416.9,1145.4 1418.5,1146.0 1420.0,1146.2 1421.6,1146.0 1423.2,1146.1 1424.7,1145.8 1426.3,1145.1 1427.8,1145.2 1429.4,1145.3 1431.0,1145.0 1432.5,1145.2 1434.1,1145.5 1435.7,1145.5 1437.2,1145.5 1438.8,1145.1 1440.3,1144.6 1441.9,1143.8 1443.5,1143.2 1445.0,1142.7 1446.6,1141.7 1448.1,1140.8 1449.7,1140.2 1451.3,1139.4 1452.8,1139.4 1454.4,1139.6 1455.9,1138.7 1457.5,1137.5 1459.1,1136.3 1460.6,1135.3 1462.2,1134.5 1463.7,1133.3 1465.3,1131.2 1466.9,1127.3 1468.4,1120.2 1470.0,1109.6 1471.5,1097.8 1472.5,1092.5 1473.1,1091.7 1474.7,1091.8 1476.2,1087.8 1477.8,1072.7 1479.3,1044.1 1480.9,1011.3 1482.0,1002.2 1484.0,1029.6 1485.6,1055.6 1487.1,1067.2 1488.7,1066.3 1490.3,1065.2 1491.8,1077.5 1493.4,1095.6 1494.9,1110.1 1496.5,1120.0 1498.1,1126.3 1499.6,1130.0 1501.2,1132.8 1502.7,1134.9 1504.3,1135.9 1505.9,1136.8 1507.4,1137.3 1509.0,1137.2 1510.6,1136.5 1512.1,1134.8 1513.7,1131.1 1515.2,1124.8 1516.8,1115.8 1518.8,1108.5 1519.9,1110.9 1521.5,1118.9 1523.0,1123.9 1524.6,1125.0 1526.2,1123.7 1527.7,1124.3 1529.3,1128.9 1530.8,1133.8 1532.4,1137.1 1534.0,1139.1 1535.5,1140.0 1537.1,1140.8 1538.6,1141.0 1540.2,1140.6 1541.8,1140.1 1543.3,1139.7 1545.0,1138.8 1546.4,1139.5 1548.0,1141.2 1549.6,1142.6 1551.1,1143.4 1552.7,1144.0 1554.2,1144.7 1555.8,1145.2 1557.4,1145.7 1558.9,1146.1 1560.5,1145.8 1562.0,1145.1 1563.6,1144.7 1565.2,1144.1 1566.7,1142.9 1568.3,1140.6 1569.8,1137.3 1571.4,1133.1 1573.0,1128.7 1573.8,1128.0 1574.5,1128.2 1576.1,1131.2 1577.6,1134.0 1579.2,1135.4 1580.8,1135.7 1582.3,1135.9 1583.9,1137.5 1585.4,1139.8 1587.0,1142.0 1588.6,1144.0 1590.1,1145.5 1591.7,1145.8 1593.3,1145.3 1594.8,1145.0 1596.4,1145.3 1597.9,1145.7 1599.5,1146.3 1601.1,1146.6 1602.6,1145.8 1604.2,1145.0 1605.7,1145.0 1607.3,1145.1 1608.9,1145.6 1610.4,1145.8 1612.0,1145.0 1613.5,1144.1 1615.1,1143.9 1616.7,1143.4 1618.2,1141.7 1620.0,1141.0 1621.3,1141.3 1622.9,1142.2 1624.5,1142.4 1626.0,1142.1 1627.6,1141.2 1629.1,1140.2 1630.7,1139.3 1632.3,1137.3 1633.8,1133.9 1635.4,1130.8 1636.0,1130.5 1636.9,1131.3 1638.5,1134.3 1640.1,1136.4 1641.6,1136.3 1643.2,1135.3 1644.7,1134.7 1646.3,1134.8 1647.9,1134.6 1649.4,1132.9 1651.0,1132.5 1652.5,1134.3 1654.1,1137.4 1655.7,1139.2 1657.2,1139.8 1658.8,1139.4 1660.3,1139.3 1661.9,1139.7 1663.5,1140.5 1665.0,1141.5 1666.6,1141.9 1668.2,1142.3 1669.7,1142.7 1671.3,1142.9 1672.8,1143.5 1674.4,1144.4 1676.0,1144.7 1677.5,1144.7 1679.1,1144.3 1680.6,1143.6 1682.2,1143.4 1683.8,1143.6 1685.3,1143.5 1686.9,1143.7 1688.4,1143.3 1690.0,1143.1 1691.6,1143.5 1693.1,1143.6 1694.7,1143.4 1696.2,1142.6 1697.8,1142.0 1699.4,1142.0 1700.9,1141.3 1702.5,1140.0 1704.0,1138.5 1705.6,1135.6 1707.2,1129.8 1708.7,1120.9 1710.3,1112.5 1711.0,1111.5 1711.8,1112.6 1713.4,1119.4 1715.0,1124.5 1716.5,1125.5 1718.1,1123.6 1719.6,1121.7 1721.2,1123.0 1722.8,1126.4 1724.3,1128.8 1725.9,1129.0 1727.4,1126.1 1729.0,1124.2 1730.6,1127.2 1732.1,1131.9 1733.7,1134.1 1735.2,1134.1 1736.8,1132.9 1738.4,1132.3 1739.9,1133.9 1741.5,1136.0 1743.1,1137.1 1744.6,1137.4 1746.2,1137.0 1747.7,1134.6 1749.3,1130.2 1750.9,1124.5 1752.8,1119.2 1754.0,1120.7 1755.5,1124.6 1757.1,1125.5 1758.7,1122.5 1760.2,1116.0 1761.8,1107.6 1763.2,1104.8 1764.9,1111.2 1766.5,1120.3 1768.0,1125.4 1769.6,1126.5 1771.1,1125.4 1772.7,1125.8 1774.3,1129.6 1775.8,1133.7 1777.4,1137.1 1778.9,1140.0 1780.5,1142.0 1782.1,1143.1 1783.6,1143.6 1785.2,1144.3 1786.7,1145.3 1788.3,1145.7 1789.9,1145.2 1791.4,1145.0 1793.0,1145.2 1794.5,1145.2 1796.1,1144.9 1797.7,1144.2 1799.2,1143.2 1800.8,1142.3 1802.3,1141.8 1803.9,1141.3 1805.5,1140.0 1807.0,1139.0 1808.6,1138.6 1810.1,1137.9 1811.7,1137.0 1813.3,1136.4 1814.8,1135.7 1816.4,1134.1 1817.9,1131.5 1819.5,1127.3 1821.1,1119.3 1822.6,1108.0 1824.5,1098.8 1825.8,1100.2 1827.3,1105.8 1828.9,1106.1 1830.4,1097.8 1832.0,1082.7 1833.5,1074.0 1835.1,1083.0 1836.7,1098.8 1838.2,1108.7 1839.8,1111.2 1841.4,1109.2 1842.9,1109.7 1844.5,1115.9 1846.0,1123.5 1847.6,1129.3 1849.2,1133.7 1850.7,1136.9 1852.3,1139.4 1853.8,1141.6 1855.4,1143.0 1857.0,1143.9 1858.5,1144.6 1860.1,1144.6 1861.6,1144.6 1863.2,1145.5 1864.8,1146.1 1866.3,1146.1 1867.9,1146.0 1869.4,1145.7 1871.0,1146.0 1872.6,1146.7 1874.1,1146.7 1875.7,1146.0 1877.2,1145.8 1878.8,1146.0 1880.4,1146.1 1881.9,1146.1 1883.5,1146.0 1885.0,1145.8 1886.6,1145.9 1888.2,1146.4 1889.7,1146.7 1891.3,1146.4 1892.8,1146.0 1894.4,1146.1 1896.0,1146.1 1897.5,1145.2 1899.1,1144.8 1900.7,1145.5 1902.2,1146.2 1903.8,1146.5 1905.3,1146.5 1906.9,1146.4 1908.5,1146.2 1910.0,1145.8 1911.6,1145.7 1913.1,1145.9 1914.7,1145.9 1916.3,1146.2 1917.8,1146.3 1919.4,1146.0 1920.9,1145.8 1922.5,1146.0 1924.1,1146.3 1925.6,1146.2 1927.2,1146.0 1928.7,1146.4 1930.3,1146.8 1931.9,1146.5 1933.4,1146.2 1935.0,1145.9 1936.5,1145.8 1938.1,1146.0 1939.7,1146.1 1941.2,1146.2 1942.8,1146.4 1944.3,1146.2 1945.9,1146.0 1947.5,1146.2 1949.0,1145.9 1950.6,1145.5 1952.1,1145.9 1953.7,1146.2 1955.3,1145.7 1956.8,1145.6 1958.4,1145.4 1959.9,1145.2 1961.5,1145.2 1963.1,1144.5 1964.6,1143.4 1966.2,1142.6 1967.7,1141.0 1969.3,1137.3 1970.9,1132.2 1972.8,1128.5 1974.0,1129.8 1975.5,1133.9 1977.1,1136.1 1978.7,1136.4 1980.2,1135.7 1981.8,1134.4 1983.4,1134.7 1984.9,1136.5 1986.5,1137.9 1988.0,1138.8 1989.6,1139.7 1991.2,1140.1 1992.7,1140.1 1994.3,1140.4 1995.8,1140.6 1997.4,1140.2 1999.0,1139.2 2000.5,1136.2 2002.1,1131.1 2004.0,1127.5 2005.2,1127.8 2006.8,1130.5 2008.3,1130.7 2009.9,1127.2 2011.4,1120.7 2013.5,1113.5 2014.6,1115.5 2016.1,1122.2 2017.7,1128.3 2019.2,1131.2 2020.8,1131.5 2022.4,1130.8 2023.9,1131.3 2025.5,1134.3 2027.0,1138.1 2028.6,1141.3 2030.2,1143.5 2031.7,1144.9 2033.3,1145.6 2034.8,1145.9 2036.4,1146.8 2038.0,1147.3 2039.5,1146.7 2041.1,1146.5 2042.6,1147.1 2044.2,1147.3 2045.8,1146.9 2047.3,1147.0 2048.9,1147.5 2050.4,1146.7 2052.0,1146.1 2053.6,1146.9 2055.1,1147.8 2056.7,1148.1 2058.3,1148.5 2059.8,1148.3 2061.4,1147.2 2062.9,1146.4 2064.5,1146.7 2066.1,1147.3 2067.6,1146.9 2069.2,1146.0 2070.7,1146.1 2072.3,1146.6 2073.9,1146.9 2075.4,1146.9 2077.0,1146.6 2078.5,1146.7 2080.1,1147.0 2081.7,1147.1 2083.2,1147.2 2084.8,1147.0 2086.3,1147.0 2087.9,1147.1 2089.5,1147.1 2091.0,1147.2 2092.6,1147.3 2094.1,1147.1 2095.7,1147.1 2097.3,1147.4 2098.8,1147.5 2100.4,1147.5 2101.9,1147.4 2103.5,1147.3 2105.1,1147.1 2106.6,1146.8 2108.2,1146.1 2109.7,1145.5 2111.3,1144.8 2112.9,1143.2 2114.4,1141.7 2116.5,1139.8 2117.5,1140.4 2119.1,1141.3 2120.7,1142.2 2122.2,1142.0 2123.8,1140.9 2125.3,1140.1 2126.9,1140.1 2128.5,1141.2 2130.0,1142.6 2131.6,1143.8 2133.2,1145.4 2134.7,1146.6 2136.3,1146.4 2137.8,1146.3 2139.4,1146.9 2141.0,1147.3 2142.5,1147.1 2144.1,1147.4 2145.6,1147.5 2147.2,1146.8 2148.8,1146.2 2150.3,1145.9 2151.9,1145.7 2153.4,1145.4 2155.0,1145.1 2156.6,1145.0 2158.1,1145.0 2159.7,1144.9 2161.2,1144.6 2162.8,1144.3 2164.4,1144.1 2165.9,1143.7 2167.5,1143.3 2169.0,1143.1 2170.6,1143.2 2172.2,1143.2"/>
</g>
<g fill="#0000ff" stroke="none">
<path d="M324.75 1413.70V1393.55A2.25 2.25 0 0 1 329.25 1393.55V1413.70Z"/>
<path d="M413.25 1413.70V1396.55A2.25 2.25 0 0 1 417.75 1396.55V1413.70Z"/>
<path d="M458.00 1413.70V1399.55A2.25 2.25 0 0 1 462.50 1399.55V1413.70Z"/>
<path d="M551.50 1413.70V1388.30A2.25 2.25 0 0 1 556.00 1388.30V1413.70Z"/>
<path d="M691.00 1413.70V1355.80A2.25 2.25 0 0 1 695.50 1355.80V1413.70Z"/>
<path d="M745.85 1413.70V1352.05A2.25 2.25 0 0 1 750.35 1352.05V1413.70Z"/>
<path d="M768.75 1413.70V1145.30A2.25 2.25 0 0 1 773.25 1145.30V1413.70Z"/>
<path d="M775.00 1413.70V1137.05A2.25 2.25 0 0 1 779.50 1137.05V1413.70Z"/>
<path d="M810.75 1413.70V1184.05A2.25 2.25 0 0 1 815.25 1184.05V1413.70Z"/>
<path d="M836.25 1413.70V1330.30A2.25 2.25 0 0 1 840.75 1330.30V1413.70Z"/>
<path d="M945.50 1413.70V1297.05A2.25 2.25 0 0 1 950.00 1297.05V1413.70Z"/>
<path d="M1016.25 1413.70V1387.80A2.25 2.25 0 0 1 1020.75 1387.80V1413.70Z"/>
<path d="M1129.25 1413.70V1379.05A2.25 2.25 0 0 1 1133.75 1379.05V1413.70Z"/>
<path d="M1147.50 1413.70V1387.80A2.25 2.25 0 0 1 1152.00 1387.80V1413.70Z"/>
<path d="M1175.50 1413.70V1376.55A2.25 2.25 0 0 1 1180.00 1376.55V1413.70Z"/>
<path d="M1184.50 1413.70V1362.80A2.25 2.25 0 0 1 1189.00 1362.80V1413.70Z"/>
<path d="M1289.00 1413.70V1407.80A2.25 2.25 0 0 1 1293.50 1407.80V1413.70Z"/>
<path d="M1319.00 1413.70V1402.05A2.25 2.25 0 0 1 1323.50 1402.05V1413.70Z"/>
<path d="M1347.00 1413.70V1352.80A2.25 2.25 0 0 1 1351.50 1352.80V1413.70Z"/>
<path d="M1482.00 1413.70V1272.80A2.25 2.25 0 0 1 1486.50 1272.80V1413.70Z"/>
<path d="M1519.00 1413.70V1377.30A2.25 2.25 0 0 1 1523.50 1377.30V1413.70Z"/>
<path d="M1577.00 1413.70V1394.05A2.25 2.25 0 0 1 1581.50 1394.05V1413.70Z"/>
<path d="M1619.75 1413.70V1409.80A2.25 2.25 0 0 1 1624.25 1409.80V1413.70Z"/>
<path d="M1640.00 1413.70V1396.55A2.25 2.25 0 0 1 1644.50 1396.55V1413.70Z"/>
<path d="M1653.25 1413.70V1396.55A2.25 2.25 0 0 1 1657.75 1396.55V1413.70Z"/>
<path d="M1710.75 1413.70V1374.65A2.25 2.25 0 0 1 1715.25 1374.65V1413.70Z"/>
<path d="M1733.35 1413.70V1388.45A2.25 2.25 0 0 1 1737.85 1388.45V1413.70Z"/>
<path d="M1752.00 1413.70V1371.55A2.25 2.25 0 0 1 1756.50 1371.55V1413.70Z"/>
<path d="M1764.75 1413.70V1371.55A2.25 2.25 0 0 1 1769.25 1371.55V1413.70Z"/>
<path d="M1826.00 1413.70V1357.80A2.25 2.25 0 0 1 1830.50 1357.80V1413.70Z"/>
<path d="M1836.75 1413.70V1347.05A2.25 2.25 0 0 1 1841.25 1347.05V1413.70Z"/>
<path d="M1976.00 1413.70V1396.55A2.25 2.25 0 0 1 1980.50 1396.55V1413.70Z"/>
<path d="M2004.00 1413.70V1388.30A2.25 2.25 0 0 1 2008.50 1388.30V1413.70Z"/>
<path d="M2013.00 1413.70V1382.80A2.25 2.25 0 0 1 2017.50 1382.80V1413.70Z"/>
<path d="M2120.00 1413.70V1391.55A2.25 2.25 0 0 1 2124.50 1391.55V1413.70Z"/>
</g>
<g font-family='"Liberation Sans", sans-serif' font-weight="700" fill="#000000">
<text transform="translate(219.90,1504.40) scale(0.99,1.012)" font-size="70.5" text-anchor="middle">25</text>
<text transform="translate(610.05,1504.40) scale(0.99,1.012)" font-size="70.5" text-anchor="middle">30</text>
<text transform="translate(1000.20,1504.40) scale(0.99,1.012)" font-size="70.5" text-anchor="middle">35</text>
<text transform="translate(1390.35,1504.40) scale(0.99,1.012)" font-size="70.5" text-anchor="middle">40</text>
<text transform="translate(1780.50,1504.40) scale(0.99,1.012)" font-size="70.5" text-anchor="middle">45</text>
<text transform="translate(2170.65,1504.40) scale(0.99,1.012)" font-size="70.5" text-anchor="middle">50</text>
<text transform="translate(1020.90,1631.00) scale(1.0,1.035)" font-size="85.3" text-anchor="start">2</text>
<text transform="translate(1068.43,1631.00)" font-size="85.6" text-anchor="start">θ</text>
<text transform="translate(1137.00,1631.00)" font-size="85.2" text-anchor="start">(deg.)</text>
<text transform="translate(102.90,982.80) rotate(-90) scale(1.0,1.04)" font-size="85.45" text-anchor="start">I</text>
<text transform="translate(102.90,959.06) rotate(-90)" font-size="85.45" text-anchor="start">ntensity (a. u.)</text>
<text transform="translate(303.70,392.30)" font-size="69" text-anchor="middle">(d)</text>
<text transform="translate(304.10,634.00)" font-size="69" text-anchor="middle">(c)</text>
<text transform="translate(303.70,852.00)" font-size="69" text-anchor="middle">(b)</text>
<text transform="translate(308.10,1091.00)" font-size="69" text-anchor="middle">(a)</text>
<text transform="translate(233.50,1256.40) scale(1.0,1.04)" font-size="69.5" text-anchor="start">PDF# 33-0302</text>
</g>
</svg>
</body></html>
